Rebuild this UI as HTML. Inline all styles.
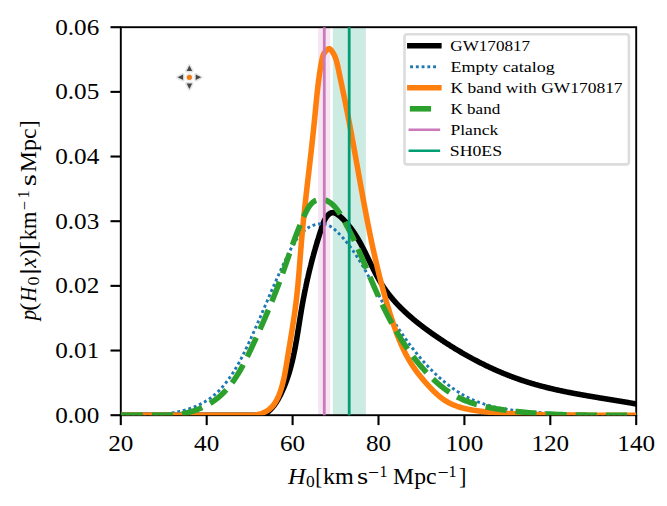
<!DOCTYPE html>
<html><head><meta charset="utf-8"><style>
html,body{margin:0;padding:0;background:#fff;width:667px;height:506px;overflow:hidden}
svg{display:block}
text{font-family:"Liberation Serif",serif}
</style></head><body>
<svg width="667" height="506" viewBox="0 0 667 506">
<defs><clipPath id="ax"><rect x="120.8" y="27.2" width="515.40" height="388.15"/></clipPath></defs>
<rect width="667" height="506" fill="#fff"/>
<rect x="318.2" y="27.2" width="12.00" height="388.00" fill="#CC78BC" fill-opacity="0.2"/>
<rect x="332.8" y="27.2" width="33.10" height="388.00" fill="#029E73" fill-opacity="0.2"/>
<rect x="120.8" y="27.2" width="515.40" height="388.00" fill="none" stroke="#000" stroke-width="1.9" stroke-linecap="square"/>
<g clip-path="url(#ax)"><path d="M120.50,415.20 L238.00,415.20 L238.48,415.20 L238.96,415.20 L239.45,415.20 L239.95,415.20 L240.45,415.20 L240.95,415.20 L241.46,415.20 L241.98,415.20 L242.50,415.20 L243.02,415.20 L243.55,415.20 L244.08,415.20 L244.62,415.20 L245.16,415.20 L245.70,415.20 L246.24,415.20 L246.78,415.20 L247.33,415.20 L247.88,415.20 L248.43,415.20 L248.98,415.20 L249.53,415.20 L250.08,415.20 L250.63,415.20 L251.18,415.20 L251.73,415.20 L252.28,415.20 L252.83,415.20 L253.37,415.20 L253.92,415.20 L254.46,415.20 L255.00,415.20 L255.54,415.20 L256.07,415.20 L256.61,415.20 L257.13,415.20 L257.66,415.20 L258.18,415.20 L258.69,415.20 L259.20,415.20 L259.71,415.20 L260.21,415.20 L260.71,415.20 L261.20,415.20 L261.68,415.20 L262.16,415.15 L262.63,415.01 L263.09,414.85 L263.55,414.67 L264.00,414.48 L264.44,414.27 L264.87,414.04 L265.30,413.80 L265.72,413.55 L266.14,413.29 L266.55,413.01 L266.95,412.72 L267.35,412.42 L267.74,412.12 L268.13,411.80 L268.51,411.47 L268.89,411.14 L269.26,410.80 L269.62,410.45 L269.99,410.10 L270.34,409.74 L270.70,409.38 L271.05,409.01 L271.39,408.64 L271.73,408.27 L272.07,407.89 L272.40,407.50 L272.73,407.12 L273.05,406.72 L273.37,406.33 L273.68,405.93 L274.00,405.52 L274.30,405.11 L274.61,404.70 L274.91,404.29 L275.21,403.87 L275.50,403.45 L275.79,403.02 L276.08,402.59 L276.36,402.16 L276.64,401.73 L276.92,401.29 L277.19,400.85 L277.46,400.41 L277.72,399.96 L277.99,399.52 L278.25,399.07 L278.51,398.61 L278.76,398.16 L279.01,397.70 L279.26,397.24 L279.51,396.78 L279.75,396.32 L279.99,395.86 L280.23,395.39 L280.47,394.92 L280.70,394.45 L280.93,393.98 L281.16,393.51 L281.38,393.04 L281.61,392.57 L281.83,392.09 L282.05,391.62 L282.27,391.14 L282.48,390.66 L282.69,390.19 L282.90,389.71 L283.11,389.23 L283.32,388.75 L283.53,388.27 L283.73,387.79 L283.93,387.31 L284.13,386.83 L284.33,386.34 L284.52,385.86 L284.72,385.38 L284.91,384.89 L285.10,384.41 L285.29,383.92 L285.48,383.44 L285.66,382.95 L285.84,382.47 L286.02,381.98 L286.20,381.49 L286.38,381.00 L286.56,380.52 L286.73,380.03 L286.91,379.54 L287.08,379.05 L287.25,378.56 L287.41,378.07 L287.58,377.57 L287.75,377.08 L287.91,376.59 L288.07,376.10 L288.23,375.60 L288.39,375.11 L288.55,374.62 L288.70,374.12 L288.86,373.63 L289.01,373.13 L289.16,372.63 L289.31,372.14 L289.46,371.64 L289.60,371.14 L289.75,370.65 L289.89,370.15 L290.04,369.65 L290.18,369.15 L290.32,368.65 L290.46,368.15 L290.59,367.65 L290.73,367.15 L290.86,366.65 L291.00,366.15 L291.13,365.65 L291.26,365.15 L291.39,364.65 L291.52,364.14 L291.65,363.64 L291.77,363.14 L291.90,362.63 L292.02,362.13 L292.14,361.63 L292.27,361.12 L292.39,360.62 L292.51,360.11 L292.62,359.61 L292.74,359.10 L292.86,358.60 L292.97,358.09 L293.09,357.58 L293.20,357.08 L293.31,356.57 L293.42,356.06 L293.54,355.56 L293.64,355.05 L293.75,354.54 L293.86,354.03 L293.97,353.52 L294.07,353.01 L294.18,352.51 L294.28,352.00 L294.39,351.49 L294.49,350.98 L294.59,350.47 L294.69,349.96 L294.79,349.45 L294.89,348.94 L294.99,348.43 L295.09,347.92 L295.19,347.40 L295.28,346.89 L295.38,346.38 L295.47,345.87 L295.57,345.36 L295.66,344.85 L295.76,344.33 L295.85,343.82 L295.94,343.31 L296.03,342.80 L296.12,342.28 L296.21,341.77 L296.30,341.26 L296.39,340.75 L296.48,340.23 L296.57,339.72 L296.66,339.21 L296.75,338.69 L296.84,338.18 L296.92,337.67 L297.01,337.15 L297.09,336.64 L297.18,336.12 L297.27,335.61 L297.35,335.10 L297.44,334.58 L297.52,334.07 L297.60,333.55 L297.69,333.04 L297.77,332.52 L297.85,332.01 L297.94,331.50 L298.02,330.98 L298.10,330.47 L298.18,329.95 L298.27,329.44 L298.35,328.92 L298.43,328.41 L298.51,327.89 L298.59,327.38 L298.68,326.87 L298.76,326.35 L298.84,325.84 L298.92,325.32 L299.00,324.81 L299.08,324.29 L299.16,323.78 L299.25,323.26 L299.33,322.75 L299.41,322.24 L299.49,321.72 L299.57,321.21 L299.65,320.69 L299.73,320.18 L299.82,319.66 L299.90,319.15 L299.98,318.64 L300.06,318.12 L300.14,317.61 L300.23,317.10 L300.31,316.58 L300.39,316.07 L300.47,315.56 L300.56,315.04 L300.64,314.53 L300.73,314.02 L300.81,313.50 L300.89,312.99 L300.98,312.48 L301.06,311.97 L301.15,311.45 L301.24,310.94 L301.32,310.43 L301.41,309.92 L301.50,309.41 L301.58,308.90 L301.67,308.39 L301.76,307.87 L301.85,307.36 L301.94,306.85 L302.03,306.34 L302.12,305.83 L302.21,305.32 L302.30,304.81 L302.39,304.30 L302.48,303.79 L302.57,303.28 L302.67,302.77 L302.76,302.26 L302.85,301.75 L302.95,301.24 L303.04,300.74 L303.13,300.23 L303.23,299.72 L303.32,299.21 L303.42,298.70 L303.52,298.19 L303.61,297.68 L303.71,297.18 L303.81,296.67 L303.91,296.16 L304.00,295.65 L304.10,295.14 L304.20,294.64 L304.30,294.13 L304.40,293.62 L304.50,293.12 L304.60,292.61 L304.71,292.10 L304.81,291.59 L304.91,291.09 L305.01,290.58 L305.12,290.07 L305.22,289.57 L305.32,289.06 L305.43,288.56 L305.53,288.05 L305.64,287.54 L305.75,287.04 L305.85,286.53 L305.96,286.03 L306.07,285.52 L306.17,285.01 L306.28,284.51 L306.39,284.00 L306.50,283.50 L306.61,282.99 L306.72,282.49 L306.83,281.98 L306.94,281.48 L307.05,280.97 L307.17,280.47 L307.28,279.96 L307.39,279.46 L307.50,278.95 L307.62,278.45 L307.73,277.94 L307.85,277.44 L307.96,276.93 L308.08,276.43 L308.20,275.93 L308.31,275.42 L308.43,274.92 L308.55,274.41 L308.67,273.91 L308.78,273.40 L308.90,272.90 L309.02,272.40 L309.14,271.89 L309.26,271.39 L309.38,270.88 L309.51,270.38 L309.63,269.88 L309.75,269.37 L309.87,268.87 L310.00,268.36 L310.12,267.86 L310.25,267.36 L310.37,266.85 L310.50,266.35 L310.62,265.85 L310.75,265.34 L310.88,264.84 L311.00,264.33 L311.13,263.83 L311.26,263.33 L311.39,262.82 L311.52,262.32 L311.65,261.82 L311.78,261.31 L311.91,260.81 L312.04,260.31 L312.18,259.80 L312.31,259.30 L312.44,258.79 L312.58,258.29 L312.71,257.79 L312.84,257.28 L312.98,256.78 L313.12,256.28 L313.25,255.77 L313.39,255.27 L313.53,254.77 L313.66,254.26 L313.80,253.76 L313.94,253.25 L314.08,252.75 L314.22,252.25 L314.36,251.74 L314.50,251.24 L314.64,250.73 L314.79,250.23 L314.93,249.73 L315.07,249.22 L315.22,248.72 L315.36,248.21 L315.51,247.71 L315.65,247.21 L315.80,246.70 L315.94,246.20 L316.09,245.69 L316.24,245.19 L316.39,244.68 L316.53,244.18 L316.68,243.68 L316.83,243.17 L316.98,242.67 L317.13,242.16 L317.29,241.66 L317.44,241.15 L317.59,240.65 L317.74,240.14 L317.90,239.64 L318.05,239.13 L318.21,238.63 L318.36,238.12 L318.52,237.62 L318.67,237.11 L318.83,236.60 L318.99,236.10 L319.15,235.59 L319.30,235.09 L319.46,234.58 L319.62,234.08 L319.78,233.57 L319.95,233.06 L320.11,232.56 L320.27,232.05 L320.43,231.54 L320.59,231.04 L320.76,230.53 L320.92,230.02 L321.09,229.52 L321.25,229.01 L321.42,228.50 L321.59,228.00 L321.75,227.49 L321.92,226.98 L322.09,226.47 L322.26,225.97 L322.43,225.46 L322.61,224.95 L322.78,224.45 L322.96,223.94 L323.15,223.44 L323.34,222.94 L323.54,222.44 L323.74,221.94 L323.95,221.45 L324.17,220.96 L324.40,220.47 L324.64,219.99 L324.89,219.51 L325.15,219.03 L325.42,218.56 L325.71,218.09 L326.01,217.63 L326.32,217.17 L326.64,216.72 L326.98,216.29 L327.32,215.87 L327.68,215.47 L328.04,215.08 L328.41,214.71 L328.79,214.37 L329.17,214.05 L329.56,213.76 L329.96,213.50 L330.36,213.27 L330.76,213.07 L331.17,212.91 L331.58,212.79 L331.99,212.71 L332.40,212.66 L332.82,212.65 L333.23,212.67 L333.64,212.72 L334.06,212.80 L334.48,212.91 L334.89,213.05 L335.31,213.21 L335.72,213.40 L336.14,213.61 L336.55,213.84 L336.97,214.09 L337.38,214.36 L337.79,214.64 L338.20,214.94 L338.61,215.25 L339.01,215.57 L339.41,215.90 L339.81,216.24 L340.21,216.58 L340.61,216.93 L341.00,217.29 L341.39,217.64 L341.77,218.00 L342.15,218.36 L342.53,218.73 L342.91,219.09 L343.28,219.46 L343.65,219.83 L344.02,220.20 L344.38,220.58 L344.74,220.95 L345.10,221.33 L345.45,221.71 L345.80,222.10 L346.15,222.48 L346.50,222.87 L346.84,223.26 L347.18,223.65 L347.52,224.04 L347.86,224.43 L348.19,224.83 L348.52,225.23 L348.84,225.63 L349.17,226.03 L349.49,226.43 L349.81,226.84 L350.13,227.25 L350.44,227.66 L350.76,228.07 L351.07,228.48 L351.37,228.89 L351.68,229.31 L351.98,229.73 L352.28,230.14 L352.58,230.56 L352.88,230.99 L353.17,231.41 L353.47,231.83 L353.76,232.26 L354.04,232.69 L354.33,233.12 L354.61,233.55 L354.90,233.98 L355.18,234.41 L355.46,234.85 L355.73,235.28 L356.01,235.72 L356.28,236.16 L356.55,236.60 L356.82,237.04 L357.09,237.48 L357.36,237.92 L357.62,238.37 L357.89,238.81 L358.15,239.26 L358.41,239.71 L358.67,240.16 L358.93,240.61 L359.18,241.06 L359.44,241.51 L359.69,241.96 L359.94,242.41 L360.20,242.87 L360.45,243.32 L360.69,243.78 L360.94,244.24 L361.19,244.69 L361.43,245.15 L361.68,245.61 L361.92,246.07 L362.16,246.53 L362.40,246.99 L362.65,247.45 L362.88,247.92 L363.12,248.38 L363.36,248.84 L363.60,249.31 L363.83,249.77 L364.07,250.24 L364.31,250.70 L364.54,251.17 L364.77,251.64 L365.01,252.10 L365.24,252.57 L365.47,253.04 L365.70,253.51 L365.93,253.98 L366.16,254.44 L366.39,254.91 L366.62,255.38 L366.85,255.85 L367.08,256.32 L367.31,256.79 L367.54,257.26 L367.77,257.73 L368.00,258.20 L368.23,258.67 L368.45,259.14 L368.68,259.61 L368.91,260.09 L369.14,260.56 L369.37,261.03 L369.59,261.50 L369.82,261.97 L370.05,262.44 L370.28,262.91 L370.51,263.38 L370.74,263.85 L370.97,264.32 L371.20,264.79 L371.43,265.26 L371.66,265.73 L371.89,266.19 L372.12,266.66 L372.35,267.13 L372.58,267.60 L372.82,268.07 L373.05,268.53 L373.28,269.00 L373.52,269.46 L373.75,269.93 L373.99,270.39 L374.23,270.86 L374.47,271.32 L374.70,271.79 L374.94,272.25 L375.18,272.71 L375.42,273.17 L375.67,273.63 L375.91,274.09 L376.15,274.55 L376.40,275.01 L376.64,275.47 L376.89,275.93 L377.14,276.38 L377.39,276.84 L377.64,277.29 L377.89,277.75 L378.14,278.20 L378.40,278.65 L378.65,279.10 L378.91,279.55 L379.17,280.00 L379.43,280.45 L379.69,280.89 L379.95,281.34 L380.22,281.78 L380.49,282.23 L380.75,282.67 L381.02,283.11 L381.29,283.55 L381.57,283.99 L381.84,284.43 L382.12,284.86 L382.40,285.30 L382.68,285.73 L382.96,286.16 L383.24,286.60 L383.53,287.03 L383.81,287.45 L384.10,287.88 L384.39,288.31 L384.69,288.73 L384.98,289.15 L385.28,289.58 L385.58,290.00 L385.88,290.42 L386.18,290.83 L386.48,291.25 L386.79,291.67 L387.09,292.08 L387.40,292.49 L387.71,292.90 L388.02,293.31 L388.34,293.72 L388.65,294.13 L388.97,294.54 L389.29,294.94 L389.61,295.35 L389.93,295.75 L390.25,296.15 L390.58,296.55 L390.91,296.95 L391.23,297.35 L391.56,297.75 L391.90,298.14 L392.23,298.54 L392.56,298.93 L392.90,299.32 L393.24,299.72 L393.57,300.11 L393.91,300.49 L394.26,300.88 L394.60,301.27 L394.94,301.65 L395.29,302.04 L395.64,302.42 L395.99,302.80 L396.34,303.19 L396.69,303.56 L397.04,303.94 L397.40,304.32 L397.75,304.70 L398.11,305.07 L398.47,305.45 L398.83,305.82 L399.19,306.19 L399.55,306.56 L399.92,306.93 L400.28,307.30 L400.65,307.67 L401.01,308.04 L401.38,308.41 L401.75,308.77 L402.12,309.13 L402.50,309.50 L402.87,309.86 L403.24,310.22 L403.62,310.58 L404.00,310.94 L404.38,311.30 L404.76,311.65 L405.14,312.01 L405.52,312.36 L405.90,312.72 L406.28,313.07 L406.67,313.42 L407.06,313.77 L407.44,314.12 L407.83,314.47 L408.22,314.82 L408.61,315.17 L409.00,315.52 L409.39,315.86 L409.79,316.21 L410.18,316.55 L410.57,316.89 L410.97,317.23 L411.37,317.57 L411.77,317.91 L412.16,318.25 L412.56,318.59 L412.96,318.93 L413.37,319.27 L413.77,319.60 L414.17,319.94 L414.58,320.27 L414.98,320.60 L415.39,320.94 L415.79,321.27 L416.20,321.60 L416.61,321.93 L417.02,322.26 L417.43,322.58 L417.84,322.91 L418.25,323.24 L418.66,323.56 L419.07,323.89 L419.49,324.21 L419.90,324.54 L420.32,324.86 L420.73,325.18 L421.15,325.50 L421.56,325.82 L421.98,326.14 L422.40,326.46 L422.82,326.78 L423.24,327.10 L423.66,327.41 L424.08,327.73 L424.50,328.04 L424.92,328.36 L425.34,328.67 L425.77,328.98 L426.19,329.30 L426.61,329.61 L427.04,329.92 L427.46,330.23 L427.89,330.54 L428.31,330.85 L428.74,331.16 L429.17,331.46 L429.59,331.77 L430.02,332.08 L430.45,332.38 L430.88,332.69 L431.31,332.99 L431.73,333.30 L432.16,333.60 L432.59,333.90 L433.02,334.20 L433.45,334.50 L433.89,334.80 L434.32,335.10 L434.75,335.40 L435.18,335.70 L435.61,336.00 L436.04,336.30 L436.48,336.59 L436.91,336.89 L437.34,337.19 L437.78,337.48 L438.21,337.78 L438.64,338.07 L439.08,338.37 L439.51,338.66 L439.95,338.95 L440.38,339.24 L440.82,339.53 L441.25,339.82 L441.69,340.11 L442.12,340.40 L442.56,340.69 L443.00,340.98 L443.43,341.27 L443.87,341.56 L444.31,341.84 L444.74,342.13 L445.18,342.41 L445.62,342.70 L446.06,342.98 L446.50,343.27 L446.94,343.55 L447.38,343.83 L447.82,344.11 L448.26,344.39 L448.70,344.67 L449.14,344.95 L449.58,345.23 L450.02,345.51 L450.46,345.79 L450.90,346.07 L451.34,346.34 L451.78,346.62 L452.22,346.90 L452.67,347.17 L453.11,347.44 L453.55,347.72 L454.00,347.99 L454.44,348.26 L454.88,348.53 L455.33,348.81 L455.77,349.08 L456.22,349.35 L456.66,349.62 L457.11,349.88 L457.55,350.15 L458.00,350.42 L458.45,350.69 L458.89,350.95 L459.34,351.22 L459.79,351.48 L460.23,351.75 L460.68,352.01 L461.13,352.27 L461.58,352.53 L462.02,352.80 L462.47,353.06 L462.92,353.32 L463.37,353.58 L463.82,353.83 L464.27,354.09 L464.72,354.35 L465.17,354.61 L465.62,354.86 L466.07,355.12 L466.52,355.37 L466.98,355.63 L467.43,355.88 L467.88,356.13 L468.33,356.39 L468.79,356.64 L469.24,356.89 L469.69,357.14 L470.15,357.39 L470.60,357.64 L471.05,357.88 L471.51,358.13 L471.96,358.38 L472.42,358.62 L472.88,358.87 L473.33,359.11 L473.79,359.36 L474.24,359.60 L474.70,359.84 L475.16,360.08 L475.61,360.33 L476.07,360.57 L476.53,360.81 L476.99,361.04 L477.45,361.28 L477.91,361.52 L478.37,361.76 L478.83,361.99 L479.28,362.23 L479.75,362.46 L480.21,362.70 L480.67,362.93 L481.13,363.16 L481.59,363.40 L482.05,363.63 L482.51,363.86 L482.97,364.09 L483.44,364.32 L483.90,364.54 L484.36,364.77 L484.83,365.00 L485.29,365.22 L485.76,365.45 L486.22,365.67 L486.69,365.90 L487.15,366.12 L487.62,366.34 L488.08,366.57 L488.55,366.79 L489.01,367.01 L489.48,367.23 L489.95,367.44 L490.42,367.66 L490.88,367.88 L491.35,368.10 L491.82,368.31 L492.29,368.53 L492.76,368.74 L493.23,368.95 L493.70,369.17 L494.17,369.38 L494.64,369.59 L495.11,369.80 L495.58,370.01 L496.05,370.22 L496.52,370.43 L496.99,370.64 L497.47,370.84 L497.94,371.05 L498.41,371.25 L498.89,371.46 L499.36,371.66 L499.83,371.86 L500.31,372.07 L500.78,372.27 L501.26,372.47 L501.73,372.67 L502.21,372.87 L502.69,373.06 L503.16,373.26 L503.64,373.46 L504.12,373.65 L504.59,373.85 L505.07,374.04 L505.55,374.24 L506.03,374.43 L506.51,374.62 L506.99,374.81 L507.47,375.00 L507.95,375.19 L508.43,375.38 L508.91,375.57 L509.39,375.76 L509.87,375.94 L510.35,376.13 L510.83,376.31 L511.31,376.50 L511.80,376.68 L512.28,376.86 L512.76,377.04 L513.25,377.22 L513.73,377.40 L514.22,377.58 L514.70,377.76 L515.19,377.94 L515.67,378.11 L516.16,378.29 L516.64,378.46 L517.13,378.64 L517.62,378.81 L518.10,378.98 L518.59,379.15 L519.08,379.33 L519.57,379.50 L520.06,379.66 L520.54,379.83 L521.03,380.00 L521.52,380.17 L522.01,380.33 L522.50,380.50 L523.00,380.66 L523.49,380.82 L523.98,380.99 L524.47,381.15 L524.96,381.31 L525.46,381.47 L525.95,381.63 L526.44,381.79 L526.94,381.94 L527.43,382.10 L527.92,382.25 L528.42,382.41 L528.91,382.56 L529.41,382.72 L529.91,382.87 L530.40,383.02 L530.90,383.17 L531.40,383.32 L531.89,383.47 L532.39,383.62 L532.89,383.76 L533.39,383.91 L533.89,384.05 L534.39,384.20 L534.89,384.34 L535.38,384.49 L535.89,384.63 L536.39,384.77 L536.89,384.91 L537.39,385.05 L537.89,385.19 L538.39,385.33 L538.89,385.46 L539.40,385.60 L539.90,385.74 L540.40,385.87 L540.90,386.01 L541.41,386.14 L541.91,386.27 L542.42,386.40 L542.92,386.54 L543.43,386.67 L543.93,386.80 L544.44,386.93 L544.94,387.05 L545.45,387.18 L545.95,387.31 L546.46,387.44 L546.97,387.56 L547.47,387.69 L547.98,387.81 L548.49,387.93 L549.00,388.06 L549.50,388.18 L550.01,388.30 L550.52,388.42 L551.03,388.54 L551.54,388.66 L552.05,388.78 L552.56,388.90 L553.07,389.02 L553.58,389.14 L554.09,389.25 L554.60,389.37 L555.11,389.49 L555.62,389.60 L556.13,389.72 L556.64,389.83 L557.15,389.94 L557.66,390.06 L558.17,390.17 L558.68,390.28 L559.20,390.39 L559.71,390.50 L560.22,390.61 L560.73,390.72 L561.24,390.83 L561.76,390.94 L562.27,391.04 L562.78,391.15 L563.30,391.26 L563.81,391.37 L564.32,391.47 L564.84,391.58 L565.35,391.68 L565.86,391.79 L566.38,391.89 L566.89,391.99 L567.41,392.10 L567.92,392.20 L568.43,392.30 L568.95,392.40 L569.46,392.50 L569.98,392.60 L570.49,392.70 L571.01,392.80 L571.52,392.90 L572.04,393.00 L572.55,393.10 L573.07,393.20 L573.58,393.30 L574.10,393.39 L574.62,393.49 L575.13,393.59 L575.65,393.68 L576.16,393.78 L576.68,393.88 L577.19,393.97 L577.71,394.07 L578.23,394.16 L578.74,394.25 L579.26,394.35 L579.77,394.44 L580.29,394.54 L580.81,394.63 L581.32,394.72 L581.84,394.81 L582.35,394.90 L582.87,395.00 L583.39,395.09 L583.90,395.18 L584.42,395.27 L584.94,395.36 L585.45,395.45 L585.97,395.54 L586.49,395.63 L587.00,395.72 L587.52,395.81 L588.03,395.90 L588.55,395.99 L589.07,396.07 L589.58,396.16 L590.10,396.25 L590.61,396.34 L591.13,396.42 L591.65,396.51 L592.16,396.60 L592.68,396.69 L593.19,396.77 L593.71,396.86 L594.23,396.95 L594.74,397.03 L595.26,397.12 L595.77,397.20 L596.29,397.29 L596.80,397.37 L597.32,397.46 L597.83,397.55 L598.35,397.63 L598.87,397.72 L599.38,397.80 L599.90,397.88 L600.41,397.97 L600.92,398.05 L601.44,398.14 L601.95,398.22 L602.47,398.31 L602.98,398.39 L603.50,398.47 L604.01,398.56 L604.53,398.64 L605.04,398.73 L605.55,398.81 L606.07,398.89 L606.58,398.98 L607.09,399.06 L607.61,399.14 L608.12,399.23 L608.63,399.31 L609.14,399.40 L609.66,399.48 L610.17,399.56 L610.68,399.65 L611.19,399.73 L611.71,399.81 L612.22,399.90 L612.73,399.98 L613.24,400.06 L613.75,400.15 L614.26,400.23 L614.77,400.31 L615.28,400.40 L615.79,400.48 L616.30,400.56 L616.81,400.65 L617.32,400.73 L617.83,400.82 L618.34,400.90 L618.85,400.98 L619.36,401.07 L619.87,401.15 L620.38,401.24 L620.89,401.32 L621.39,401.41 L621.90,401.49 L622.41,401.58 L622.92,401.66 L623.42,401.75 L623.93,401.83 L624.44,401.92 L624.94,402.00 L625.45,402.09 L625.95,402.17 L626.46,402.26 L626.96,402.34 L627.47,402.43 L627.97,402.52 L628.48,402.60 L628.98,402.69 L629.48,402.78 L629.99,402.87 L630.49,402.95 L630.99,403.04 L631.50,403.13 L632.00,403.22 L632.50,403.31 L633.00,403.39 L633.50,403.48 L634.00,403.57 L634.50,403.66 L635.00,403.75 L635.50,403.84 L636.00,403.93 L636.20,403.59" fill="none" stroke="#000000" stroke-width="5.56" stroke-linejoin="round"/><path d="M120.50,415.20 L135.02,415.20 L135.61,415.20 L136.20,415.20 L136.78,415.20 L137.37,415.20 L137.96,415.20 L138.55,415.20 L139.14,415.20 L139.73,415.20 L140.33,415.20 L140.92,415.20 L141.52,415.20 L142.11,415.20 L142.71,415.20 L143.30,415.20 L143.90,415.20 L144.50,415.20 L145.10,415.20 L145.70,415.20 L146.30,415.20 L146.90,415.20 L147.50,415.20 L148.10,415.20 L148.71,415.20 L149.31,415.20 L149.91,415.20 L150.52,415.20 L151.12,415.20 L151.72,415.20 L152.33,415.20 L152.93,415.20 L153.54,415.20 L154.14,415.20 L154.75,415.20 L155.35,414.86 L155.96,414.82 L156.56,414.78 L157.17,414.73 L157.77,414.69 L158.38,414.64 L158.98,414.59 L159.59,414.54 L160.19,414.49 L160.80,414.43 L161.40,414.37 L162.01,414.31 L162.61,414.25 L163.22,414.19 L163.82,414.12 L164.42,414.05 L165.03,413.98 L165.63,413.91 L166.23,413.83 L166.83,413.75 L167.43,413.67 L168.03,413.59 L168.63,413.50 L169.23,413.41 L169.83,413.32 L170.43,413.23 L171.03,413.14 L171.62,413.04 L172.22,412.94 L172.82,412.83 L173.41,412.73 L174.00,412.62 L174.60,412.51 L175.19,412.40 L175.78,412.28 L176.37,412.16 L176.96,412.04 L177.55,411.91 L178.13,411.79 L178.72,411.66 L179.30,411.52 L179.89,411.39 L180.47,411.25 L181.05,411.11 L181.63,410.96 L182.21,410.81 L182.78,410.66 L183.36,410.51 L183.93,410.35 L184.51,410.19 L185.08,410.03 L185.65,409.87 L186.22,409.70 L186.78,409.53 L187.35,409.35 L187.91,409.17 L188.48,408.99 L189.04,408.81 L189.60,408.62 L190.15,408.43 L190.71,408.23 L191.26,408.04 L191.81,407.83 L192.37,407.63 L192.91,407.42 L193.46,407.21 L194.00,407.00 L194.55,406.78 L195.09,406.56 L195.63,406.33 L196.16,406.10 L196.70,405.87 L197.23,405.64 L197.76,405.40 L198.29,405.15 L198.81,404.91 L199.34,404.66 L199.86,404.40 L200.38,404.15 L200.89,403.89 L201.41,403.62 L201.92,403.35 L202.43,403.08 L202.94,402.80 L203.44,402.52 L203.94,402.24 L204.44,401.95 L204.94,401.66 L205.43,401.36 L205.92,401.06 L206.41,400.76 L206.90,400.45 L207.38,400.14 L207.86,399.83 L208.34,399.51 L208.82,399.18 L209.29,398.86 L209.76,398.52 L210.23,398.19 L210.69,397.85 L211.15,397.50 L211.61,397.16 L212.06,396.80 L212.51,396.45 L212.96,396.09 L213.41,395.72 L213.85,395.35 L214.30,394.98 L214.73,394.61 L215.17,394.23 L215.60,393.85 L216.03,393.46 L216.46,393.07 L216.88,392.67 L217.30,392.28 L217.72,391.88 L218.14,391.47 L218.56,391.06 L218.97,390.65 L219.38,390.24 L219.78,389.82 L220.19,389.40 L220.59,388.98 L220.99,388.55 L221.38,388.12 L221.78,387.68 L222.17,387.25 L222.56,386.81 L222.95,386.36 L223.33,385.92 L223.71,385.47 L224.09,385.02 L224.47,384.57 L224.85,384.11 L225.22,383.65 L225.59,383.19 L225.96,382.72 L226.32,382.25 L226.69,381.78 L227.05,381.31 L227.41,380.84 L227.77,380.36 L228.12,379.88 L228.48,379.39 L228.83,378.91 L229.18,378.42 L229.53,377.93 L229.87,377.44 L230.21,376.95 L230.56,376.45 L230.90,375.95 L231.23,375.45 L231.57,374.95 L231.90,374.45 L232.23,373.94 L232.56,373.43 L232.89,372.92 L233.22,372.41 L233.54,371.90 L233.87,371.38 L234.19,370.87 L234.51,370.35 L234.82,369.83 L235.14,369.31 L235.45,368.79 L235.77,368.26 L236.08,367.73 L236.39,367.21 L236.69,366.68 L237.00,366.15 L237.30,365.62 L237.61,365.08 L237.91,364.55 L238.21,364.02 L238.50,363.48 L238.80,362.94 L239.10,362.40 L239.39,361.86 L239.68,361.32 L239.97,360.78 L240.26,360.24 L240.55,359.70 L240.84,359.15 L241.12,358.61 L241.41,358.06 L241.69,357.52 L241.97,356.97 L242.25,356.42 L242.53,355.88 L242.81,355.33 L243.08,354.78 L243.36,354.23 L243.63,353.68 L243.91,353.13 L244.18,352.58 L244.45,352.03 L244.72,351.48 L244.99,350.93 L245.26,350.38 L245.52,349.83 L245.79,349.27 L246.05,348.72 L246.32,348.17 L246.58,347.62 L246.84,347.07 L247.10,346.52 L247.36,345.97 L247.62,345.42 L247.88,344.86 L248.14,344.31 L248.39,343.76 L248.65,343.21 L248.91,342.66 L249.16,342.12 L249.41,341.57 L249.67,341.02 L249.92,340.47 L250.17,339.92 L250.42,339.38 L250.67,338.83 L250.92,338.29 L251.17,337.74 L251.41,337.20 L251.66,336.65 L251.91,336.11 L252.15,335.56 L252.40,335.02 L252.64,334.48 L252.89,333.93 L253.13,333.39 L253.38,332.85 L253.62,332.31 L253.86,331.77 L254.10,331.22 L254.34,330.68 L254.58,330.14 L254.82,329.60 L255.06,329.06 L255.30,328.52 L255.54,327.98 L255.78,327.44 L256.01,326.91 L256.25,326.37 L256.49,325.83 L256.72,325.29 L256.96,324.75 L257.19,324.22 L257.43,323.68 L257.66,323.14 L257.90,322.60 L258.13,322.07 L258.36,321.53 L258.60,320.99 L258.83,320.46 L259.06,319.92 L259.29,319.39 L259.53,318.85 L259.76,318.31 L259.99,317.78 L260.22,317.24 L260.45,316.71 L260.68,316.17 L260.91,315.64 L261.14,315.10 L261.37,314.57 L261.60,314.04 L261.83,313.50 L262.06,312.97 L262.29,312.43 L262.52,311.90 L262.75,311.36 L262.98,310.83 L263.21,310.30 L263.43,309.76 L263.66,309.23 L263.89,308.69 L264.12,308.16 L264.35,307.63 L264.58,307.09 L264.80,306.56 L265.03,306.02 L265.26,305.49 L265.49,304.96 L265.72,304.42 L265.94,303.89 L266.17,303.35 L266.40,302.82 L266.63,302.29 L266.86,301.75 L267.09,301.22 L267.31,300.68 L267.54,300.15 L267.77,299.61 L268.00,299.08 L268.23,298.54 L268.46,298.01 L268.69,297.47 L268.92,296.94 L269.15,296.40 L269.38,295.87 L269.61,295.33 L269.84,294.80 L270.07,294.26 L270.30,293.72 L270.53,293.19 L270.76,292.65 L270.99,292.11 L271.22,291.58 L271.45,291.04 L271.68,290.50 L271.92,289.97 L272.15,289.43 L272.38,288.89 L272.62,288.35 L272.85,287.81 L273.08,287.28 L273.32,286.74 L273.55,286.20 L273.79,285.66 L274.02,285.12 L274.26,284.58 L274.50,284.04 L274.73,283.50 L274.97,282.96 L275.21,282.42 L275.45,281.87 L275.69,281.33 L275.92,280.79 L276.16,280.25 L276.40,279.70 L276.64,279.16 L276.89,278.62 L277.13,278.07 L277.37,277.53 L277.61,276.98 L277.86,276.44 L278.10,275.89 L278.34,275.35 L278.59,274.80 L278.84,274.25 L279.08,273.71 L279.33,273.16 L279.58,272.61 L279.83,272.06 L280.07,271.51 L280.32,270.96 L280.57,270.41 L280.83,269.86 L281.08,269.31 L281.33,268.76 L281.58,268.21 L281.84,267.66 L282.09,267.10 L282.35,266.55 L282.60,266.00 L282.86,265.44 L283.12,264.89 L283.38,264.33 L283.64,263.78 L283.90,263.22 L284.16,262.66 L284.42,262.10 L284.68,261.54 L284.95,260.99 L285.21,260.43 L285.48,259.87 L285.75,259.31 L286.01,258.74 L286.28,258.18 L286.55,257.62 L286.82,257.06 L287.09,256.49 L287.36,255.93 L287.64,255.36 L287.91,254.80 L288.19,254.23 L288.47,253.67 L288.74,253.10 L289.03,252.54 L289.31,251.97 L289.59,251.41 L289.88,250.85 L290.16,250.29 L290.45,249.73 L290.74,249.17 L291.04,248.61 L291.33,248.06 L291.63,247.51 L291.93,246.96 L292.23,246.41 L292.54,245.86 L292.85,245.32 L293.16,244.78 L293.47,244.24 L293.79,243.70 L294.11,243.17 L294.43,242.65 L294.76,242.12 L295.08,241.60 L295.42,241.08 L295.75,240.57 L296.09,240.06 L296.43,239.56 L296.78,239.06 L297.13,238.57 L297.49,238.08 L297.84,237.60 L298.21,237.12 L298.57,236.64 L298.94,236.18 L299.32,235.71 L299.70,235.26 L300.08,234.81 L300.47,234.37 L300.86,233.93 L301.26,233.50 L301.66,233.08 L302.07,232.66 L302.48,232.25 L302.90,231.85 L303.32,231.45 L303.75,231.07 L304.18,230.69 L304.62,230.32 L305.06,229.95 L305.51,229.60 L305.96,229.25 L306.43,228.92 L306.89,228.59 L307.36,228.27 L307.84,227.96 L308.33,227.66 L308.82,227.37 L309.32,227.08 L309.82,226.81 L310.33,226.55 L310.84,226.30 L311.37,226.06 L311.89,225.83 L312.43,225.61 L312.96,225.40 L313.50,225.20 L314.05,225.02 L314.60,224.85 L315.15,224.69 L315.70,224.54 L316.26,224.40 L316.82,224.28 L317.37,224.18 L317.94,224.08 L318.50,224.00 L319.06,223.94 L319.62,223.89 L320.18,223.85 L320.74,223.83 L321.30,223.83 L321.86,223.84 L322.41,223.87 L322.96,223.91 L323.51,223.97 L324.06,224.05 L324.60,224.15 L325.14,224.26 L325.67,224.39 L326.20,224.54 L326.73,224.70 L327.25,224.89 L327.76,225.09 L328.27,225.31 L328.77,225.54 L329.27,225.79 L329.77,226.05 L330.26,226.33 L330.74,226.62 L331.22,226.93 L331.70,227.25 L332.17,227.57 L332.64,227.91 L333.11,228.26 L333.57,228.62 L334.02,228.99 L334.48,229.37 L334.93,229.75 L335.37,230.15 L335.82,230.55 L336.26,230.95 L336.69,231.36 L337.13,231.78 L337.56,232.20 L337.98,232.62 L338.41,233.05 L338.83,233.48 L339.25,233.91 L339.67,234.35 L340.08,234.78 L340.50,235.22 L340.91,235.66 L341.31,236.10 L341.72,236.54 L342.12,236.98 L342.52,237.43 L342.92,237.88 L343.32,238.32 L343.71,238.78 L344.10,239.23 L344.49,239.68 L344.87,240.14 L345.26,240.59 L345.64,241.05 L346.02,241.51 L346.40,241.97 L346.77,242.44 L347.15,242.90 L347.52,243.37 L347.89,243.83 L348.26,244.30 L348.62,244.77 L348.99,245.24 L349.35,245.72 L349.71,246.19 L350.07,246.67 L350.42,247.14 L350.78,247.62 L351.13,248.10 L351.48,248.58 L351.83,249.06 L352.18,249.55 L352.52,250.03 L352.86,250.52 L353.21,251.01 L353.55,251.49 L353.88,251.98 L354.22,252.47 L354.56,252.96 L354.89,253.46 L355.22,253.95 L355.55,254.45 L355.88,254.94 L356.21,255.44 L356.54,255.94 L356.86,256.44 L357.19,256.93 L357.51,257.44 L357.83,257.94 L358.15,258.44 L358.47,258.94 L358.78,259.45 L359.10,259.95 L359.41,260.46 L359.73,260.97 L360.04,261.48 L360.35,261.98 L360.66,262.49 L360.97,263.00 L361.28,263.51 L361.58,264.03 L361.89,264.54 L362.19,265.05 L362.50,265.57 L362.80,266.08 L363.10,266.60 L363.40,267.11 L363.70,267.63 L364.00,268.15 L364.30,268.66 L364.59,269.18 L364.89,269.70 L365.19,270.22 L365.48,270.74 L365.77,271.26 L366.07,271.78 L366.36,272.30 L366.65,272.82 L366.94,273.35 L367.23,273.87 L367.52,274.39 L367.81,274.92 L368.10,275.44 L368.39,275.96 L368.68,276.49 L368.97,277.01 L369.25,277.54 L369.54,278.06 L369.83,278.59 L370.11,279.12 L370.40,279.64 L370.68,280.17 L370.97,280.69 L371.25,281.22 L371.54,281.75 L371.82,282.28 L372.10,282.80 L372.39,283.33 L372.67,283.86 L372.95,284.39 L373.24,284.91 L373.52,285.44 L373.80,285.97 L374.09,286.50 L374.37,287.02 L374.65,287.55 L374.93,288.08 L375.22,288.61 L375.50,289.13 L375.78,289.66 L376.07,290.19 L376.35,290.71 L376.63,291.24 L376.92,291.77 L377.20,292.29 L377.48,292.82 L377.77,293.35 L378.05,293.87 L378.34,294.40 L378.62,294.92 L378.91,295.45 L379.19,295.97 L379.48,296.50 L379.77,297.02 L380.05,297.55 L380.34,298.07 L380.63,298.59 L380.92,299.12 L381.21,299.64 L381.50,300.16 L381.79,300.68 L382.08,301.20 L382.37,301.72 L382.66,302.24 L382.95,302.76 L383.24,303.28 L383.53,303.80 L383.83,304.32 L384.12,304.84 L384.42,305.36 L384.71,305.88 L385.01,306.40 L385.30,306.91 L385.60,307.43 L385.89,307.94 L386.19,308.46 L386.49,308.98 L386.79,309.49 L387.09,310.01 L387.39,310.52 L387.69,311.03 L387.99,311.55 L388.29,312.06 L388.59,312.57 L388.90,313.08 L389.20,313.59 L389.50,314.11 L389.81,314.62 L390.12,315.13 L390.42,315.64 L390.73,316.14 L391.04,316.65 L391.34,317.16 L391.65,317.67 L391.96,318.18 L392.27,318.68 L392.58,319.19 L392.89,319.69 L393.21,320.20 L393.52,320.70 L393.83,321.21 L394.15,321.71 L394.46,322.21 L394.78,322.72 L395.10,323.22 L395.41,323.72 L395.73,324.22 L396.05,324.72 L396.37,325.22 L396.69,325.72 L397.01,326.22 L397.33,326.72 L397.66,327.22 L397.98,327.71 L398.30,328.21 L398.63,328.71 L398.96,329.20 L399.28,329.70 L399.61,330.19 L399.94,330.69 L400.27,331.18 L400.60,331.67 L400.93,332.16 L401.26,332.66 L401.59,333.15 L401.93,333.64 L402.26,334.13 L402.60,334.62 L402.93,335.10 L403.27,335.59 L403.61,336.08 L403.95,336.57 L404.29,337.05 L404.63,337.54 L404.97,338.02 L405.32,338.51 L405.66,338.99 L406.00,339.47 L406.35,339.96 L406.70,340.44 L407.04,340.92 L407.39,341.40 L407.74,341.88 L408.09,342.36 L408.44,342.84 L408.80,343.31 L409.15,343.79 L409.51,344.27 L409.86,344.74 L410.22,345.22 L410.58,345.69 L410.93,346.17 L411.29,346.64 L411.66,347.11 L412.02,347.58 L412.38,348.05 L412.74,348.52 L413.11,348.99 L413.48,349.46 L413.84,349.93 L414.21,350.40 L414.58,350.86 L414.95,351.33 L415.32,351.80 L415.70,352.26 L416.07,352.72 L416.45,353.19 L416.82,353.65 L417.20,354.11 L417.58,354.57 L417.96,355.03 L418.34,355.49 L418.72,355.95 L419.10,356.41 L419.49,356.86 L419.87,357.32 L420.26,357.78 L420.65,358.23 L421.04,358.68 L421.43,359.14 L421.82,359.59 L422.21,360.04 L422.61,360.49 L423.00,360.94 L423.40,361.39 L423.80,361.84 L424.20,362.28 L424.60,362.73 L425.00,363.17 L425.40,363.62 L425.80,364.06 L426.21,364.50 L426.62,364.94 L427.02,365.38 L427.43,365.82 L427.84,366.26 L428.25,366.69 L428.67,367.13 L429.08,367.56 L429.49,368.00 L429.91,368.43 L430.33,368.86 L430.75,369.29 L431.17,369.71 L431.59,370.14 L432.01,370.57 L432.43,370.99 L432.86,371.41 L433.29,371.83 L433.71,372.25 L434.14,372.67 L434.57,373.09 L435.00,373.50 L435.44,373.91 L435.87,374.33 L436.31,374.74 L436.74,375.15 L437.18,375.55 L437.62,375.96 L438.06,376.36 L438.50,376.77 L438.94,377.17 L439.39,377.57 L439.83,377.97 L440.28,378.36 L440.73,378.76 L441.18,379.15 L441.63,379.54 L442.08,379.93 L442.53,380.31 L442.99,380.70 L443.44,381.08 L443.90,381.47 L444.36,381.85 L444.82,382.22 L445.28,382.60 L445.74,382.97 L446.20,383.35 L446.67,383.72 L447.13,384.08 L447.60,384.45 L448.07,384.81 L448.54,385.18 L449.01,385.54 L449.48,385.89 L449.96,386.25 L450.43,386.60 L450.91,386.95 L451.39,387.30 L451.87,387.65 L452.35,387.99 L452.83,388.34 L453.31,388.68 L453.80,389.02 L454.28,389.35 L454.77,389.68 L455.26,390.02 L455.75,390.34 L456.24,390.67 L456.73,390.99 L457.23,391.32 L457.72,391.64 L458.22,391.95 L458.72,392.27 L459.22,392.58 L459.72,392.89 L460.22,393.19 L460.72,393.50 L461.23,393.80 L461.74,394.10 L462.24,394.39 L462.75,394.69 L463.26,394.98 L463.77,395.27 L464.29,395.55 L464.80,395.84 L465.32,396.12 L465.84,396.39 L466.35,396.67 L466.87,396.94 L467.40,397.21 L467.92,397.47 L468.44,397.74 L468.97,398.00 L469.49,398.26 L470.02,398.51 L470.55,398.76 L471.08,399.01 L471.62,399.26 L472.15,399.50 L472.68,399.74 L473.22,399.98 L473.76,400.21 L474.30,400.44 L474.84,400.67 L475.38,400.89 L475.93,401.12 L476.47,401.34 L477.02,401.55 L477.56,401.76 L478.11,401.97 L478.66,402.18 L479.21,402.39 L479.77,402.59 L480.32,402.79 L480.88,402.98 L481.43,403.18 L481.99,403.37 L482.55,403.56 L483.11,403.74 L483.67,403.92 L484.23,404.10 L484.79,404.28 L485.36,404.46 L485.92,404.63 L486.49,404.80 L487.06,404.97 L487.63,405.13 L488.20,405.29 L488.77,405.45 L489.34,405.61 L489.91,405.77 L490.48,405.92 L491.06,406.07 L491.63,406.22 L492.21,406.36 L492.79,406.51 L493.37,406.65 L493.95,406.79 L494.53,406.92 L495.11,407.06 L495.69,407.19 L496.27,407.32 L496.86,407.45 L497.44,407.57 L498.03,407.70 L498.61,407.82 L499.20,407.94 L499.79,408.06 L500.38,408.17 L500.96,408.29 L501.55,408.40 L502.14,408.51 L502.74,408.62 L503.33,408.72 L503.92,408.83 L504.51,408.93 L505.11,409.03 L505.70,409.13 L506.30,409.23 L506.89,409.32 L507.49,409.42 L508.09,409.51 L508.68,409.60 L509.28,409.69 L509.88,409.78 L510.48,409.86 L511.08,409.95 L511.68,410.03 L512.28,410.11 L512.88,410.19 L513.48,410.27 L514.08,410.34 L514.69,410.42 L515.29,410.49 L515.89,410.57 L516.50,410.64 L517.10,410.71 L517.70,410.77 L518.31,410.84 L518.91,410.91 L519.52,410.97 L520.12,411.03 L520.73,411.10 L521.34,411.16 L521.94,411.22 L522.55,411.28 L523.15,411.33 L523.76,411.39 L524.37,411.44 L524.98,411.50 L525.58,411.55 L526.19,411.60 L526.80,411.66 L527.41,411.71 L528.01,411.75 L528.62,411.80 L529.23,411.85 L529.84,411.90 L530.45,411.94 L531.06,411.99 L531.66,412.03 L532.27,412.08 L532.88,412.12 L533.49,412.16 L534.10,412.20 L534.71,412.24 L535.32,412.28 L535.92,412.32 L536.53,412.36 L537.14,412.40 L537.75,412.43 L538.36,412.47 L538.96,412.51 L539.57,412.54 L540.18,412.58 L540.79,412.61 L541.39,412.65 L542.00,412.68 L542.61,412.71 L543.21,412.75 L543.82,412.78 L544.43,412.81 L545.03,412.85 L545.64,412.88 L546.24,412.91 L546.85,412.94 L547.45,412.97 L548.06,413.00 L548.66,413.03 L549.26,413.06 L549.87,413.09 L550.47,413.12 L551.07,413.15 L551.67,413.18 L552.28,413.21 L552.88,413.24 L553.48,413.27 L554.08,413.30 L554.68,413.32 L555.28,413.35 L555.89,413.38 L556.49,413.41 L557.09,413.43 L557.69,413.46 L558.29,413.49 L558.89,413.51 L559.49,413.54 L560.08,413.57 L560.68,413.59 L561.28,413.62 L561.88,413.64 L562.48,413.67 L563.08,413.69 L563.68,413.72 L564.27,413.74 L564.87,413.76 L565.47,413.79 L566.06,413.81 L566.66,413.83 L567.26,413.86 L567.85,413.88 L568.45,413.90 L569.05,413.93 L569.64,413.95 L570.24,413.97 L570.83,413.99 L571.43,414.01 L572.03,414.03 L572.62,414.05 L573.22,414.07 L573.81,414.10 L574.40,414.12 L575.00,414.14 L575.59,414.16 L576.19,414.18 L576.78,414.19 L577.38,414.21 L577.97,414.23 L578.56,414.25 L579.16,414.27 L579.75,414.29 L580.34,414.31 L580.94,414.32 L581.53,414.34 L582.12,414.36 L582.71,414.38 L583.31,414.39 L583.90,414.41 L584.49,414.43 L585.08,414.44 L585.68,414.46 L586.27,414.48 L586.86,414.49 L587.45,414.51 L588.04,414.52 L588.63,414.54 L589.23,414.55 L589.82,414.57 L590.41,414.58 L591.00,414.60 L591.59,414.61 L592.18,414.62 L592.77,414.64 L593.37,414.65 L593.96,414.67 L594.55,414.68 L595.14,414.69 L595.73,414.70 L596.32,414.72 L596.91,414.73 L597.50,414.74 L598.09,414.75 L598.68,414.77 L599.27,414.78 L599.86,414.79 L600.45,414.80 L601.04,414.81 L601.63,414.82 L602.22,414.83 L602.81,414.84 L603.41,414.86 L604.00,414.87 L604.59,414.88 L605.18,414.89 L605.77,414.90 L606.36,414.91 L606.95,414.91 L607.54,414.92 L608.13,414.93 L608.72,414.94 L609.31,414.95 L609.90,414.96 L610.49,414.97 L611.08,414.98 L611.67,414.98 L612.26,414.99 L612.85,415.00 L613.44,415.01 L614.03,415.02 L614.62,415.02 L615.21,415.03 L615.80,415.04 L616.39,415.04 L616.98,415.05 L617.57,415.06 L618.17,415.06 L618.76,415.07 L619.35,415.08 L619.94,415.08 L620.53,415.09 L621.12,415.09 L621.71,415.10 L622.30,415.10 L622.89,415.11 L623.49,415.11 L624.08,415.12 L624.67,415.12 L625.26,415.13 L625.85,415.13 L626.44,415.14 L627.04,415.14 L627.63,415.15 L628.22,415.15 L628.81,415.15 L629.40,415.16 L630.00,415.16 L630.59,415.16 L631.18,415.17 L631.77,415.17 L632.37,415.17 L632.96,415.18 L633.55,415.18 L634.15,415.18 L634.74,415.18 L635.33,415.19 L635.93,415.19 L636.52,415.20 L637.11,415.20 L637.71,415.20 L638.30,415.20 L638.90,415.20 L639.49,415.20 L640.09,415.20 L640.68,415.20 L641.28,415.20 L641.87,415.20 L642.47,415.20 L643.06,415.20 L643.66,415.20 L644.25,415.20 L644.85,415.20 L645.45,415.20 L646.04,415.20 L646.64,415.20 L647.24,415.20 L647.83,415.20 L648.43,415.20 L649.03,415.20 L649.62,415.20 L650.22,415.20 L650.82,415.20 L651.42,415.20 L652.02,415.20 L652.62,415.20 L653.21,415.20 L653.81,415.20 L654.41,415.20 L655.01,415.20 L655.61,415.20 L656.21,415.20 L636.20,415.20" fill="none" stroke="#1f77b4" stroke-width="2.9" stroke-dasharray="2.9 2.806" stroke-dashoffset="-0.1"/><path d="M120.50,415.20 L225.00,415.20 L225.81,415.20 L226.61,415.20 L227.42,415.20 L228.23,415.20 L229.04,415.20 L229.85,415.20 L230.66,415.20 L231.47,415.20 L232.28,415.20 L233.09,415.20 L233.90,415.20 L234.71,415.20 L235.52,415.20 L236.34,415.20 L237.15,415.20 L237.96,415.20 L238.77,415.20 L239.59,415.20 L240.40,415.20 L241.21,415.20 L242.02,415.20 L242.83,415.20 L243.65,415.20 L244.46,415.20 L245.27,415.20 L246.08,415.20 L246.89,415.20 L247.70,415.20 L248.51,415.20 L249.32,415.20 L250.12,415.20 L250.93,415.20 L251.74,415.20 L252.54,415.20 L253.35,415.20 L254.15,415.20 L254.95,415.12 L255.75,414.98 L256.55,414.83 L257.35,414.66 L258.14,414.47 L258.93,414.27 L259.72,414.05 L260.49,413.80 L261.26,413.55 L262.03,413.27 L262.78,412.97 L263.52,412.66 L264.26,412.33 L264.98,411.98 L265.69,411.61 L266.39,411.22 L267.07,410.81 L267.74,410.38 L268.39,409.93 L269.03,409.46 L269.65,408.97 L270.25,408.45 L270.83,407.92 L271.40,407.37 L271.94,406.80 L272.47,406.21 L272.99,405.61 L273.48,404.99 L273.96,404.35 L274.43,403.70 L274.88,403.03 L275.32,402.35 L275.74,401.66 L276.15,400.96 L276.54,400.24 L276.92,399.52 L277.29,398.79 L277.65,398.05 L278.00,397.30 L278.33,396.54 L278.66,395.78 L278.97,395.01 L279.28,394.24 L279.57,393.47 L279.86,392.69 L280.14,391.91 L280.41,391.13 L280.67,390.34 L280.93,389.56 L281.18,388.78 L281.42,388.00 L281.65,387.21 L281.88,386.43 L282.11,385.64 L282.32,384.86 L282.53,384.07 L282.74,383.29 L282.94,382.50 L283.13,381.71 L283.32,380.93 L283.50,380.14 L283.68,379.35 L283.86,378.56 L284.03,377.77 L284.19,376.98 L284.36,376.19 L284.52,375.40 L284.67,374.61 L284.82,373.82 L284.97,373.03 L285.12,372.24 L285.26,371.45 L285.40,370.66 L285.54,369.86 L285.68,369.07 L285.81,368.28 L285.95,367.49 L286.08,366.69 L286.21,365.90 L286.34,365.10 L286.47,364.31 L286.60,363.52 L286.72,362.72 L286.85,361.93 L286.98,361.13 L287.11,360.34 L287.23,359.54 L287.36,358.75 L287.49,357.95 L287.62,357.16 L287.75,356.36 L287.88,355.56 L288.01,354.77 L288.14,353.97 L288.27,353.18 L288.40,352.38 L288.53,351.58 L288.66,350.79 L288.79,349.99 L288.93,349.19 L289.06,348.39 L289.19,347.60 L289.32,346.80 L289.45,346.00 L289.58,345.20 L289.72,344.41 L289.85,343.61 L289.98,342.81 L290.11,342.01 L290.24,341.21 L290.37,340.41 L290.50,339.62 L290.64,338.82 L290.77,338.02 L290.90,337.22 L291.03,336.42 L291.16,335.62 L291.29,334.82 L291.42,334.02 L291.55,333.22 L291.67,332.42 L291.80,331.62 L291.93,330.82 L292.06,330.02 L292.19,329.22 L292.31,328.42 L292.44,327.62 L292.56,326.82 L292.69,326.02 L292.81,325.22 L292.94,324.41 L293.06,323.61 L293.19,322.81 L293.31,322.01 L293.43,321.21 L293.55,320.41 L293.67,319.60 L293.79,318.80 L293.91,318.00 L294.03,317.20 L294.14,316.40 L294.26,315.59 L294.38,314.79 L294.49,313.99 L294.60,313.19 L294.72,312.38 L294.83,311.58 L294.94,310.78 L295.05,309.98 L295.16,309.17 L295.27,308.37 L295.37,307.57 L295.48,306.76 L295.58,305.96 L295.69,305.16 L295.79,304.35 L295.89,303.55 L295.99,302.74 L296.09,301.94 L296.19,301.14 L296.28,300.33 L296.38,299.53 L296.47,298.72 L296.57,297.92 L296.66,297.11 L296.75,296.31 L296.84,295.51 L296.92,294.70 L297.01,293.90 L297.10,293.09 L297.18,292.29 L297.27,291.48 L297.35,290.68 L297.43,289.87 L297.51,289.07 L297.59,288.26 L297.67,287.46 L297.75,286.65 L297.83,285.85 L297.90,285.04 L297.98,284.24 L298.05,283.43 L298.13,282.62 L298.20,281.82 L298.27,281.01 L298.34,280.21 L298.42,279.40 L298.49,278.60 L298.56,277.79 L298.63,276.98 L298.70,276.18 L298.76,275.37 L298.83,274.57 L298.90,273.76 L298.97,272.95 L299.03,272.15 L299.10,271.34 L299.16,270.54 L299.23,269.73 L299.29,268.92 L299.36,268.12 L299.42,267.31 L299.49,266.51 L299.55,265.70 L299.61,264.89 L299.68,264.09 L299.74,263.28 L299.80,262.47 L299.87,261.67 L299.93,260.86 L299.99,260.06 L300.06,259.25 L300.12,258.44 L300.18,257.64 L300.24,256.83 L300.31,256.02 L300.37,255.22 L300.43,254.41 L300.50,253.61 L300.56,252.80 L300.62,251.99 L300.69,251.19 L300.75,250.38 L300.81,249.57 L300.88,248.77 L300.94,247.96 L301.01,247.16 L301.07,246.35 L301.14,245.54 L301.21,244.74 L301.27,243.93 L301.34,243.13 L301.41,242.32 L301.47,241.51 L301.54,240.71 L301.61,239.90 L301.68,239.10 L301.75,238.29 L301.82,237.48 L301.89,236.68 L301.97,235.87 L302.04,235.07 L302.11,234.26 L302.18,233.45 L302.26,232.65 L302.33,231.84 L302.41,231.04 L302.48,230.23 L302.56,229.43 L302.64,228.62 L302.71,227.82 L302.79,227.01 L302.87,226.20 L302.95,225.40 L303.02,224.59 L303.10,223.79 L303.18,222.98 L303.26,222.18 L303.34,221.37 L303.42,220.57 L303.50,219.76 L303.59,218.96 L303.67,218.15 L303.75,217.35 L303.83,216.54 L303.92,215.74 L304.00,214.93 L304.08,214.13 L304.17,213.32 L304.25,212.52 L304.34,211.71 L304.42,210.91 L304.51,210.10 L304.59,209.30 L304.68,208.49 L304.76,207.69 L304.85,206.88 L304.94,206.08 L305.03,205.27 L305.11,204.47 L305.20,203.66 L305.29,202.86 L305.38,202.05 L305.47,201.25 L305.55,200.44 L305.64,199.64 L305.73,198.83 L305.82,198.03 L305.91,197.23 L306.00,196.42 L306.09,195.62 L306.18,194.81 L306.27,194.01 L306.36,193.20 L306.45,192.40 L306.54,191.59 L306.64,190.79 L306.73,189.98 L306.82,189.18 L306.91,188.38 L307.00,187.57 L307.09,186.77 L307.19,185.96 L307.28,185.16 L307.37,184.35 L307.46,183.55 L307.55,182.75 L307.65,181.94 L307.74,181.14 L307.83,180.33 L307.92,179.53 L308.02,178.72 L308.11,177.92 L308.20,177.12 L308.30,176.31 L308.39,175.51 L308.48,174.70 L308.57,173.90 L308.67,173.09 L308.76,172.29 L308.85,171.49 L308.95,170.68 L309.04,169.88 L309.13,169.07 L309.23,168.27 L309.32,167.47 L309.41,166.66 L309.50,165.86 L309.60,165.05 L309.69,164.25 L309.78,163.45 L309.87,162.64 L309.97,161.84 L310.06,161.03 L310.15,160.23 L310.24,159.43 L310.34,158.62 L310.43,157.82 L310.52,157.01 L310.61,156.21 L310.70,155.41 L310.80,154.60 L310.89,153.80 L310.98,152.99 L311.07,152.19 L311.16,151.39 L311.25,150.58 L311.34,149.78 L311.43,148.97 L311.52,148.17 L311.61,147.37 L311.70,146.56 L311.79,145.76 L311.88,144.95 L311.97,144.15 L312.06,143.35 L312.15,142.54 L312.24,141.74 L312.32,140.93 L312.41,140.13 L312.50,139.33 L312.59,138.52 L312.67,137.72 L312.76,136.91 L312.85,136.11 L312.93,135.31 L313.02,134.50 L313.10,133.70 L313.19,132.90 L313.27,132.09 L313.36,131.29 L313.44,130.48 L313.53,129.68 L313.61,128.88 L313.69,128.07 L313.78,127.27 L313.86,126.46 L313.94,125.66 L314.02,124.86 L314.11,124.05 L314.19,123.25 L314.27,122.44 L314.35,121.64 L314.43,120.84 L314.51,120.03 L314.58,119.23 L314.66,118.42 L314.74,117.62 L314.82,116.82 L314.90,116.01 L314.97,115.21 L315.05,114.40 L315.13,113.60 L315.21,112.79 L315.28,111.99 L315.36,111.19 L315.44,110.38 L315.51,109.58 L315.59,108.77 L315.67,107.97 L315.74,107.17 L315.82,106.36 L315.90,105.56 L315.98,104.75 L316.05,103.95 L316.13,103.14 L316.21,102.34 L316.29,101.54 L316.37,100.73 L316.45,99.93 L316.53,99.12 L316.61,98.32 L316.69,97.51 L316.78,96.71 L316.86,95.91 L316.94,95.10 L317.03,94.30 L317.11,93.49 L317.20,92.69 L317.29,91.88 L317.37,91.08 L317.46,90.27 L317.55,89.47 L317.64,88.67 L317.74,87.86 L317.83,87.06 L317.92,86.25 L318.02,85.45 L318.11,84.64 L318.21,83.84 L318.31,83.03 L318.41,82.23 L318.51,81.42 L318.62,80.62 L318.72,79.81 L318.83,79.01 L318.94,78.20 L319.04,77.40 L319.16,76.59 L319.27,75.79 L319.38,74.98 L319.50,74.18 L319.62,73.37 L319.73,72.57 L319.86,71.76 L319.98,70.96 L320.10,70.15 L320.23,69.35 L320.36,68.54 L320.49,67.74 L320.62,66.93 L320.76,66.13 L320.90,65.32 L321.03,64.52 L321.18,63.71 L321.32,62.91 L321.47,62.10 L321.61,61.30 L321.77,60.49 L321.93,59.69 L322.10,58.89 L322.29,58.11 L322.50,57.32 L322.73,56.55 L322.98,55.79 L323.26,55.05 L323.58,54.32 L323.93,53.61 L324.32,52.91 L324.75,52.24 L325.22,51.59 L325.75,50.97 L326.32,50.37 L326.96,49.79 L327.64,49.27 L328.35,48.86 L329.04,48.69 L329.69,48.83 L330.28,49.22 L330.84,49.78 L331.36,50.41 L331.85,51.06 L332.32,51.72 L332.77,52.40 L333.19,53.08 L333.59,53.77 L333.96,54.48 L334.32,55.20 L334.65,55.92 L334.97,56.66 L335.27,57.40 L335.56,58.15 L335.83,58.91 L336.08,59.68 L336.32,60.45 L336.55,61.22 L336.77,62.01 L336.98,62.79 L337.18,63.59 L337.37,64.38 L337.55,65.18 L337.73,65.98 L337.90,66.78 L338.07,67.58 L338.24,68.39 L338.40,69.19 L338.57,69.99 L338.73,70.80 L338.90,71.60 L339.06,72.40 L339.23,73.20 L339.39,74.00 L339.56,74.80 L339.72,75.60 L339.89,76.40 L340.06,77.20 L340.22,77.99 L340.39,78.79 L340.55,79.59 L340.72,80.38 L340.89,81.18 L341.05,81.97 L341.22,82.77 L341.39,83.56 L341.55,84.35 L341.72,85.15 L341.89,85.94 L342.05,86.73 L342.22,87.52 L342.38,88.31 L342.55,89.11 L342.72,89.90 L342.88,90.69 L343.05,91.48 L343.21,92.27 L343.38,93.06 L343.54,93.85 L343.71,94.64 L343.87,95.43 L344.03,96.22 L344.20,97.01 L344.36,97.80 L344.52,98.59 L344.68,99.39 L344.85,100.18 L345.01,100.97 L345.17,101.76 L345.33,102.55 L345.49,103.34 L345.65,104.13 L345.81,104.92 L345.97,105.72 L346.13,106.51 L346.28,107.30 L346.44,108.09 L346.60,108.88 L346.76,109.68 L346.91,110.47 L347.07,111.26 L347.23,112.05 L347.38,112.85 L347.54,113.64 L347.69,114.43 L347.85,115.22 L348.00,116.02 L348.15,116.81 L348.31,117.60 L348.46,118.40 L348.61,119.19 L348.77,119.99 L348.92,120.78 L349.07,121.57 L349.22,122.37 L349.37,123.16 L349.53,123.96 L349.68,124.75 L349.83,125.54 L349.98,126.34 L350.13,127.13 L350.28,127.93 L350.43,128.72 L350.58,129.52 L350.72,130.31 L350.87,131.11 L351.02,131.90 L351.17,132.70 L351.32,133.49 L351.47,134.29 L351.61,135.08 L351.76,135.88 L351.91,136.67 L352.06,137.47 L352.20,138.27 L352.35,139.06 L352.49,139.86 L352.64,140.65 L352.79,141.45 L352.93,142.24 L353.08,143.04 L353.22,143.84 L353.37,144.63 L353.51,145.43 L353.66,146.23 L353.80,147.02 L353.95,147.82 L354.09,148.61 L354.24,149.41 L354.38,150.21 L354.53,151.00 L354.67,151.80 L354.82,152.60 L354.96,153.39 L355.10,154.19 L355.25,154.99 L355.39,155.78 L355.53,156.58 L355.68,157.38 L355.82,158.17 L355.96,158.97 L356.11,159.77 L356.25,160.56 L356.39,161.36 L356.54,162.16 L356.68,162.96 L356.82,163.75 L356.96,164.55 L357.11,165.35 L357.25,166.14 L357.39,166.94 L357.54,167.74 L357.68,168.53 L357.82,169.33 L357.96,170.13 L358.11,170.93 L358.25,171.72 L358.39,172.52 L358.54,173.32 L358.68,174.11 L358.82,174.91 L358.96,175.71 L359.11,176.51 L359.25,177.30 L359.39,178.10 L359.54,178.90 L359.68,179.69 L359.82,180.49 L359.97,181.29 L360.11,182.08 L360.25,182.88 L360.40,183.68 L360.54,184.48 L360.68,185.27 L360.83,186.07 L360.97,186.87 L361.12,187.66 L361.26,188.46 L361.40,189.26 L361.55,190.05 L361.69,190.85 L361.84,191.65 L361.98,192.44 L362.13,193.24 L362.27,194.04 L362.42,194.83 L362.57,195.63 L362.71,196.43 L362.86,197.22 L363.00,198.02 L363.15,198.82 L363.30,199.61 L363.45,200.41 L363.59,201.21 L363.74,202.00 L363.89,202.80 L364.04,203.59 L364.18,204.39 L364.33,205.19 L364.48,205.98 L364.63,206.78 L364.78,207.57 L364.93,208.37 L365.08,209.16 L365.23,209.96 L365.38,210.76 L365.53,211.55 L365.68,212.35 L365.83,213.14 L365.99,213.94 L366.14,214.73 L366.29,215.53 L366.44,216.32 L366.60,217.12 L366.75,217.91 L366.90,218.71 L367.06,219.50 L367.21,220.30 L367.37,221.09 L367.52,221.88 L367.68,222.68 L367.84,223.47 L367.99,224.27 L368.15,225.06 L368.31,225.85 L368.47,226.65 L368.62,227.44 L368.78,228.24 L368.94,229.03 L369.10,229.82 L369.26,230.62 L369.42,231.41 L369.58,232.20 L369.75,233.00 L369.91,233.79 L370.07,234.58 L370.23,235.37 L370.40,236.17 L370.56,236.96 L370.72,237.75 L370.89,238.54 L371.06,239.33 L371.22,240.13 L371.39,240.92 L371.56,241.71 L371.72,242.50 L371.89,243.29 L372.06,244.08 L372.23,244.87 L372.40,245.67 L372.57,246.46 L372.74,247.25 L372.91,248.04 L373.08,248.83 L373.26,249.62 L373.43,250.41 L373.61,251.20 L373.78,251.99 L373.96,252.78 L374.13,253.57 L374.31,254.36 L374.48,255.15 L374.66,255.93 L374.84,256.72 L375.02,257.51 L375.20,258.30 L375.38,259.09 L375.56,259.88 L375.74,260.67 L375.93,261.45 L376.11,262.24 L376.29,263.03 L376.48,263.82 L376.66,264.60 L376.85,265.39 L377.04,266.18 L377.22,266.96 L377.41,267.75 L377.60,268.54 L377.79,269.32 L377.98,270.11 L378.17,270.89 L378.37,271.68 L378.56,272.47 L378.75,273.25 L378.95,274.04 L379.14,274.82 L379.34,275.61 L379.53,276.39 L379.73,277.17 L379.93,277.96 L380.13,278.74 L380.33,279.53 L380.53,280.31 L380.73,281.09 L380.93,281.88 L381.14,282.66 L381.34,283.44 L381.55,284.22 L381.75,285.01 L381.96,285.79 L382.17,286.57 L382.38,287.35 L382.59,288.13 L382.80,288.91 L383.01,289.69 L383.22,290.47 L383.43,291.26 L383.65,292.04 L383.86,292.82 L384.08,293.60 L384.30,294.37 L384.51,295.15 L384.73,295.93 L384.95,296.71 L385.17,297.49 L385.40,298.27 L385.62,299.05 L385.84,299.83 L386.07,300.60 L386.29,301.38 L386.52,302.16 L386.75,302.93 L386.97,303.71 L387.20,304.49 L387.44,305.26 L387.67,306.04 L387.90,306.82 L388.13,307.59 L388.37,308.37 L388.60,309.14 L388.84,309.92 L389.08,310.69 L389.32,311.46 L389.56,312.24 L389.80,313.01 L390.04,313.78 L390.29,314.56 L390.53,315.33 L390.78,316.10 L391.02,316.87 L391.27,317.65 L391.52,318.42 L391.77,319.19 L392.02,319.96 L392.28,320.73 L392.53,321.50 L392.79,322.27 L393.04,323.04 L393.30,323.81 L393.56,324.58 L393.82,325.34 L394.09,326.11 L394.35,326.88 L394.62,327.64 L394.89,328.41 L395.16,329.17 L395.44,329.93 L395.71,330.69 L395.99,331.45 L396.27,332.21 L396.55,332.97 L396.83,333.73 L397.12,334.49 L397.41,335.24 L397.70,336.00 L397.99,336.75 L398.29,337.50 L398.59,338.26 L398.89,339.01 L399.20,339.75 L399.50,340.50 L399.81,341.25 L400.13,341.99 L400.44,342.73 L400.76,343.48 L401.08,344.21 L401.41,344.95 L401.74,345.69 L402.07,346.42 L402.40,347.16 L402.74,347.89 L403.08,348.62 L403.43,349.35 L403.77,350.07 L404.13,350.80 L404.48,351.52 L404.84,352.24 L405.20,352.96 L405.57,353.68 L405.94,354.39 L406.32,355.10 L406.70,355.81 L407.08,356.52 L407.46,357.23 L407.85,357.93 L408.25,358.63 L408.65,359.33 L409.05,360.03 L409.46,360.72 L409.87,361.41 L410.29,362.10 L410.71,362.79 L411.14,363.47 L411.57,364.16 L412.00,364.84 L412.44,365.51 L412.89,366.19 L413.34,366.86 L413.79,367.53 L414.25,368.19 L414.71,368.86 L415.18,369.52 L415.65,370.18 L416.13,370.83 L416.61,371.48 L417.09,372.14 L417.58,372.78 L418.08,373.43 L418.57,374.07 L419.07,374.71 L419.58,375.35 L420.08,375.99 L420.59,376.62 L421.11,377.26 L421.63,377.89 L422.15,378.51 L422.67,379.14 L423.20,379.76 L423.73,380.38 L424.26,381.00 L424.79,381.62 L425.33,382.23 L425.87,382.85 L426.41,383.46 L426.95,384.07 L427.50,384.67 L428.05,385.28 L428.60,385.88 L429.15,386.48 L429.71,387.08 L430.27,387.67 L430.83,388.26 L431.39,388.85 L431.96,389.43 L432.53,390.01 L433.10,390.59 L433.68,391.16 L434.26,391.72 L434.85,392.28 L435.44,392.84 L436.03,393.38 L436.62,393.93 L437.22,394.46 L437.83,394.99 L438.44,395.52 L439.05,396.03 L439.67,396.54 L440.29,397.04 L440.92,397.54 L441.56,398.02 L442.19,398.50 L442.84,398.97 L443.49,399.43 L444.14,399.88 L444.80,400.32 L445.47,400.75 L446.14,401.17 L446.82,401.58 L447.50,401.98 L448.19,402.37 L448.89,402.75 L449.60,403.12 L450.30,403.48 L451.02,403.82 L451.74,404.16 L452.47,404.49 L453.20,404.80 L453.94,405.11 L454.68,405.41 L455.43,405.70 L456.18,405.98 L456.94,406.25 L457.70,406.51 L458.47,406.76 L459.24,407.01 L460.01,407.25 L460.79,407.48 L461.57,407.70 L462.36,407.91 L463.15,408.12 L463.94,408.32 L464.73,408.51 L465.53,408.70 L466.33,408.88 L467.13,409.06 L467.93,409.23 L468.74,409.39 L469.55,409.54 L470.36,409.70 L471.17,409.84 L471.98,409.98 L472.79,410.12 L473.61,410.25 L474.42,410.38 L475.24,410.50 L476.06,410.62 L476.87,410.74 L477.69,410.85 L478.51,410.96 L479.33,411.07 L480.14,411.17 L480.96,411.27 L481.77,411.37 L482.59,411.46 L483.40,411.56 L484.21,411.65 L485.03,411.74 L485.84,411.82 L486.65,411.91 L487.46,411.99 L488.27,412.07 L489.08,412.14 L489.89,412.22 L490.70,412.29 L491.50,412.36 L492.31,412.43 L493.12,412.50 L493.92,412.57 L494.73,412.63 L495.54,412.69 L496.34,412.75 L497.15,412.81 L497.95,412.87 L498.75,412.93 L499.56,412.98 L500.36,413.03 L501.17,413.08 L501.97,413.13 L502.77,413.18 L503.57,413.23 L504.38,413.28 L505.18,413.32 L505.98,413.37 L506.78,413.41 L507.59,413.45 L508.39,413.49 L509.19,413.53 L509.99,413.57 L510.80,413.61 L511.60,413.64 L512.40,413.68 L513.20,413.71 L514.01,413.75 L514.81,413.78 L515.61,413.81 L516.41,413.85 L517.22,413.88 L518.02,413.91 L518.82,413.94 L519.63,413.97 L520.43,414.00 L521.24,414.03 L522.04,414.06 L522.85,414.09 L523.65,414.12 L524.45,414.14 L525.26,414.17 L526.07,414.20 L526.87,414.22 L527.68,414.25 L528.48,414.28 L529.29,414.30 L530.09,414.32 L530.90,414.35 L531.71,414.37 L532.51,414.40 L533.32,414.42 L534.13,414.44 L534.93,414.46 L535.74,414.48 L536.55,414.50 L537.36,414.52 L538.16,414.54 L538.97,414.56 L539.78,414.58 L540.59,414.60 L541.40,414.62 L542.20,414.64 L543.01,414.66 L543.82,414.67 L544.63,414.69 L545.44,414.71 L546.25,414.72 L547.06,414.74 L547.87,414.76 L548.67,414.77 L549.48,414.79 L550.29,414.80 L551.10,414.81 L551.91,414.83 L552.72,414.84 L553.53,414.85 L554.34,414.87 L555.15,414.88 L555.96,414.89 L556.77,414.90 L557.58,414.92 L558.39,414.93 L559.20,414.94 L560.01,414.95 L560.82,414.96 L561.63,414.97 L562.45,414.98 L563.26,414.99 L564.07,415.00 L564.88,415.01 L565.69,415.01 L566.50,415.02 L567.31,415.03 L568.12,415.04 L568.93,415.05 L569.74,415.05 L570.55,415.06 L571.37,415.07 L572.18,415.07 L572.99,415.08 L573.80,415.09 L574.61,415.09 L575.42,415.10 L576.23,415.10 L577.04,415.11 L577.86,415.12 L578.67,415.12 L579.48,415.13 L580.29,415.13 L581.10,415.13 L581.91,415.14 L582.72,415.14 L583.53,415.15 L584.35,415.15 L585.16,415.15 L585.97,415.16 L586.78,415.16 L587.59,415.16 L588.40,415.17 L589.21,415.17 L590.02,415.17 L590.84,415.17 L591.65,415.18 L592.46,415.18 L593.27,415.18 L594.08,415.18 L594.89,415.18 L595.70,415.18 L596.51,415.19 L597.32,415.19 L598.14,415.19 L598.95,415.19 L599.76,415.19 L600.57,415.20 L601.38,415.20 L602.19,415.20 L603.00,415.20 L603.81,415.20 L604.62,415.20 L605.43,415.20 L606.24,415.20 L607.05,415.20 L607.86,415.20 L608.67,415.20 L609.48,415.20 L610.29,415.20 L611.10,415.20 L611.91,415.20 L612.72,415.20 L613.53,415.20 L614.34,415.20 L615.15,415.20 L615.95,415.20 L616.76,415.20 L617.57,415.20 L618.38,415.20 L619.19,415.20 L620.00,415.20 L636.20,415.20" fill="none" stroke="#ff7f0e" stroke-width="5.56" stroke-linejoin="round"/><path d="M120.50,415.20 L140.00,415.20 L140.63,415.20 L141.27,415.20 L141.90,415.20 L142.54,415.20 L143.17,415.20 L143.80,415.20 L144.44,415.20 L145.07,415.20 L145.70,415.20 L146.34,415.20 L146.97,415.20 L147.60,415.20 L148.23,415.20 L148.86,415.20 L149.49,415.20 L150.12,415.20 L150.76,415.20 L151.39,415.20 L152.02,415.20 L152.65,415.20 L153.28,415.20 L153.91,415.20 L154.54,415.20 L155.16,415.20 L155.79,415.20 L156.42,415.20 L157.05,415.20 L157.68,415.20 L158.31,415.20 L158.93,415.20 L159.56,415.20 L160.19,415.20 L160.82,415.20 L161.44,415.20 L162.07,415.20 L162.70,415.20 L163.32,415.20 L163.95,415.20 L164.58,415.20 L165.20,415.20 L165.83,415.20 L166.46,415.20 L167.08,415.20 L167.71,415.19 L168.33,415.16 L168.96,415.14 L169.58,415.11 L170.21,415.08 L170.83,415.04 L171.46,415.01 L172.08,414.97 L172.70,414.92 L173.33,414.87 L173.95,414.82 L174.58,414.77 L175.20,414.71 L175.82,414.65 L176.45,414.58 L177.07,414.52 L177.70,414.44 L178.32,414.36 L178.94,414.28 L179.57,414.20 L180.19,414.11 L180.81,414.01 L181.44,413.91 L182.06,413.81 L182.68,413.70 L183.30,413.58 L183.93,413.46 L184.55,413.34 L185.17,413.21 L185.79,413.07 L186.42,412.93 L187.04,412.78 L187.66,412.63 L188.28,412.47 L188.90,412.31 L189.52,412.14 L190.14,411.97 L190.76,411.80 L191.38,411.61 L192.00,411.42 L192.61,411.23 L193.23,411.03 L193.84,410.83 L194.45,410.62 L195.06,410.41 L195.67,410.19 L196.28,409.97 L196.89,409.74 L197.50,409.51 L198.10,409.27 L198.70,409.03 L199.30,408.78 L199.90,408.53 L200.49,408.28 L201.09,408.02 L201.68,407.75 L202.27,407.48 L202.85,407.21 L203.44,406.93 L204.02,406.64 L204.60,406.35 L205.18,406.06 L205.75,405.76 L206.32,405.46 L206.89,405.15 L207.45,404.84 L208.01,404.53 L208.57,404.21 L209.13,403.89 L209.68,403.56 L210.23,403.22 L210.77,402.89 L211.31,402.55 L211.85,402.20 L212.38,401.85 L212.91,401.50 L213.44,401.14 L213.96,400.78 L214.48,400.41 L214.99,400.04 L215.50,399.67 L216.01,399.29 L216.51,398.91 L217.01,398.52 L217.50,398.13 L217.99,397.74 L218.47,397.34 L218.95,396.94 L219.43,396.54 L219.90,396.13 L220.37,395.72 L220.83,395.30 L221.29,394.88 L221.75,394.46 L222.20,394.03 L222.65,393.60 L223.09,393.17 L223.53,392.73 L223.97,392.30 L224.40,391.85 L224.83,391.41 L225.26,390.96 L225.68,390.50 L226.10,390.05 L226.52,389.59 L226.93,389.13 L227.34,388.66 L227.75,388.19 L228.15,387.72 L228.55,387.25 L228.95,386.77 L229.34,386.29 L229.73,385.81 L230.12,385.33 L230.50,384.84 L230.88,384.35 L231.26,383.86 L231.64,383.36 L232.01,382.86 L232.38,382.36 L232.75,381.86 L233.11,381.36 L233.47,380.85 L233.83,380.34 L234.18,379.83 L234.54,379.31 L234.89,378.80 L235.24,378.28 L235.58,377.76 L235.93,377.23 L236.27,376.71 L236.61,376.18 L236.94,375.65 L237.28,375.12 L237.61,374.59 L237.94,374.05 L238.26,373.52 L238.59,372.98 L238.91,372.44 L239.23,371.90 L239.55,371.35 L239.87,370.81 L240.19,370.26 L240.50,369.71 L240.81,369.16 L241.12,368.61 L241.43,368.06 L241.73,367.50 L242.04,366.95 L242.34,366.39 L242.64,365.83 L242.94,365.28 L243.24,364.71 L243.54,364.15 L243.83,363.59 L244.13,363.03 L244.42,362.46 L244.71,361.90 L245.00,361.33 L245.29,360.76 L245.57,360.19 L245.86,359.63 L246.15,359.06 L246.43,358.48 L246.71,357.91 L246.99,357.34 L247.28,356.77 L247.56,356.19 L247.83,355.62 L248.11,355.05 L248.39,354.47 L248.67,353.90 L248.94,353.32 L249.22,352.74 L249.49,352.17 L249.77,351.59 L250.04,351.01 L250.31,350.44 L250.58,349.86 L250.86,349.28 L251.13,348.71 L251.40,348.13 L251.67,347.55 L251.94,346.97 L252.21,346.40 L252.48,345.82 L252.75,345.24 L253.01,344.66 L253.28,344.09 L253.55,343.51 L253.82,342.93 L254.09,342.35 L254.35,341.78 L254.62,341.20 L254.89,340.62 L255.15,340.04 L255.42,339.46 L255.68,338.89 L255.95,338.31 L256.21,337.73 L256.47,337.15 L256.74,336.57 L257.00,336.00 L257.26,335.42 L257.52,334.84 L257.79,334.26 L258.05,333.68 L258.31,333.11 L258.57,332.53 L258.83,331.95 L259.09,331.37 L259.35,330.79 L259.61,330.21 L259.87,329.63 L260.12,329.05 L260.38,328.48 L260.64,327.90 L260.90,327.32 L261.15,326.74 L261.41,326.16 L261.66,325.58 L261.92,325.00 L262.17,324.42 L262.43,323.84 L262.68,323.26 L262.94,322.68 L263.19,322.10 L263.44,321.52 L263.69,320.94 L263.94,320.36 L264.20,319.78 L264.45,319.20 L264.70,318.62 L264.95,318.04 L265.20,317.46 L265.45,316.88 L265.69,316.30 L265.94,315.72 L266.19,315.14 L266.44,314.56 L266.68,313.98 L266.93,313.40 L267.18,312.82 L267.42,312.24 L267.67,311.65 L267.91,311.07 L268.16,310.49 L268.40,309.91 L268.64,309.33 L268.89,308.75 L269.13,308.16 L269.37,307.58 L269.61,307.00 L269.85,306.42 L270.09,305.83 L270.33,305.25 L270.57,304.67 L270.81,304.09 L271.05,303.50 L271.29,302.92 L271.52,302.34 L271.76,301.75 L272.00,301.17 L272.23,300.59 L272.47,300.00 L272.71,299.42 L272.94,298.83 L273.17,298.25 L273.41,297.66 L273.64,297.08 L273.87,296.50 L274.11,295.91 L274.34,295.33 L274.57,294.74 L274.80,294.15 L275.03,293.57 L275.26,292.98 L275.49,292.40 L275.72,291.81 L275.94,291.23 L276.17,290.64 L276.40,290.05 L276.63,289.47 L276.85,288.88 L277.08,288.29 L277.30,287.71 L277.53,287.12 L277.75,286.53 L277.97,285.94 L278.20,285.36 L278.42,284.77 L278.64,284.18 L278.86,283.59 L279.08,283.00 L279.30,282.41 L279.52,281.82 L279.74,281.24 L279.96,280.65 L280.18,280.06 L280.40,279.47 L280.62,278.88 L280.83,278.29 L281.05,277.70 L281.26,277.11 L281.48,276.52 L281.69,275.92 L281.91,275.33 L282.12,274.74 L282.33,274.15 L282.54,273.56 L282.76,272.97 L282.97,272.38 L283.18,271.78 L283.39,271.19 L283.60,270.60 L283.81,270.01 L284.01,269.41 L284.22,268.82 L284.43,268.23 L284.64,267.63 L284.84,267.04 L285.05,266.44 L285.26,265.85 L285.46,265.26 L285.67,264.66 L285.87,264.07 L286.08,263.47 L286.28,262.88 L286.49,262.28 L286.69,261.69 L286.90,261.09 L287.10,260.49 L287.31,259.90 L287.51,259.30 L287.72,258.71 L287.92,258.11 L288.13,257.52 L288.33,256.92 L288.54,256.32 L288.74,255.73 L288.95,255.13 L289.15,254.53 L289.36,253.94 L289.56,253.34 L289.77,252.74 L289.97,252.14 L290.18,251.55 L290.39,250.95 L290.60,250.35 L290.80,249.76 L291.01,249.16 L291.22,248.56 L291.43,247.96 L291.64,247.37 L291.85,246.77 L292.06,246.17 L292.27,245.57 L292.48,244.98 L292.70,244.38 L292.91,243.78 L293.13,243.18 L293.34,242.59 L293.56,241.99 L293.77,241.39 L293.99,240.79 L294.21,240.19 L294.43,239.60 L294.65,239.00 L294.87,238.40 L295.09,237.80 L295.31,237.21 L295.53,236.61 L295.76,236.01 L295.99,235.41 L296.21,234.82 L296.44,234.22 L296.67,233.62 L296.90,233.02 L297.13,232.43 L297.36,231.83 L297.60,231.23 L297.83,230.64 L298.07,230.04 L298.31,229.44 L298.55,228.85 L298.79,228.25 L299.03,227.65 L299.27,227.06 L299.52,226.46 L299.76,225.86 L300.01,225.27 L300.26,224.67 L300.51,224.07 L300.76,223.48 L301.02,222.88 L301.27,222.29 L301.53,221.69 L301.79,221.10 L302.05,220.50 L302.31,219.91 L302.57,219.31 L302.84,218.72 L303.11,218.12 L303.38,217.53 L303.65,216.93 L303.92,216.34 L304.20,215.75 L304.48,215.15 L304.76,214.56 L305.04,213.97 L305.32,213.37 L305.61,212.78 L305.90,212.19 L306.19,211.61 L306.48,211.03 L306.79,210.45 L307.09,209.88 L307.40,209.32 L307.71,208.76 L308.04,208.21 L308.36,207.68 L308.69,207.15 L309.03,206.63 L309.38,206.12 L309.74,205.63 L310.10,205.15 L310.47,204.69 L310.85,204.24 L311.23,203.80 L311.63,203.39 L312.04,202.99 L312.45,202.61 L312.88,202.24 L313.32,201.90 L313.77,201.58 L314.23,201.29 L314.70,201.01 L315.18,200.76 L315.68,200.53 L316.18,200.32 L316.70,200.14 L317.22,199.98 L317.75,199.85 L318.29,199.73 L318.84,199.64 L319.39,199.57 L319.94,199.53 L320.50,199.50 L321.06,199.50 L321.62,199.52 L322.18,199.56 L322.74,199.63 L323.31,199.71 L323.87,199.82 L324.42,199.94 L324.98,200.09 L325.53,200.26 L326.07,200.45 L326.61,200.66 L327.15,200.89 L327.67,201.15 L328.19,201.42 L328.71,201.71 L329.21,202.01 L329.72,202.34 L330.21,202.68 L330.70,203.04 L331.19,203.42 L331.66,203.81 L332.14,204.21 L332.60,204.63 L333.07,205.07 L333.52,205.52 L333.97,205.98 L334.42,206.45 L334.86,206.93 L335.29,207.43 L335.72,207.93 L336.14,208.45 L336.56,208.97 L336.98,209.50 L337.39,210.04 L337.79,210.59 L338.19,211.15 L338.59,211.71 L338.98,212.28 L339.36,212.86 L339.74,213.44 L340.12,214.02 L340.49,214.61 L340.86,215.20 L341.23,215.79 L341.59,216.39 L341.94,216.98 L342.30,217.58 L342.64,218.18 L342.99,218.78 L343.33,219.38 L343.67,219.97 L344.00,220.57 L344.33,221.16 L344.66,221.75 L344.98,222.34 L345.30,222.92 L345.62,223.50 L345.93,224.08 L346.24,224.65 L346.55,225.23 L346.86,225.79 L347.16,226.36 L347.46,226.93 L347.76,227.49 L348.05,228.05 L348.34,228.61 L348.63,229.16 L348.92,229.72 L349.21,230.27 L349.49,230.82 L349.77,231.38 L350.05,231.93 L350.33,232.48 L350.60,233.02 L350.88,233.57 L351.15,234.12 L351.42,234.67 L351.69,235.22 L351.96,235.77 L352.23,236.31 L352.49,236.86 L352.76,237.41 L353.02,237.96 L353.29,238.51 L353.55,239.06 L353.81,239.62 L354.07,240.17 L354.33,240.73 L354.59,241.28 L354.85,241.84 L355.11,242.40 L355.37,242.96 L355.63,243.52 L355.88,244.08 L356.14,244.64 L356.40,245.20 L356.65,245.77 L356.91,246.33 L357.16,246.90 L357.41,247.46 L357.67,248.03 L357.92,248.60 L358.17,249.17 L358.42,249.74 L358.68,250.31 L358.93,250.88 L359.18,251.45 L359.43,252.03 L359.68,252.60 L359.93,253.18 L360.18,253.75 L360.43,254.33 L360.67,254.90 L360.92,255.48 L361.17,256.06 L361.42,256.64 L361.67,257.22 L361.91,257.79 L362.16,258.37 L362.41,258.95 L362.65,259.54 L362.90,260.12 L363.15,260.70 L363.39,261.28 L363.64,261.86 L363.89,262.45 L364.13,263.03 L364.38,263.61 L364.62,264.20 L364.87,264.78 L365.11,265.37 L365.36,265.95 L365.60,266.54 L365.85,267.12 L366.10,267.71 L366.34,268.30 L366.59,268.88 L366.83,269.47 L367.08,270.06 L367.32,270.64 L367.57,271.23 L367.82,271.82 L368.06,272.40 L368.31,272.99 L368.56,273.58 L368.80,274.17 L369.05,274.75 L369.30,275.34 L369.54,275.93 L369.79,276.51 L370.04,277.10 L370.29,277.69 L370.53,278.28 L370.78,278.86 L371.03,279.45 L371.28,280.04 L371.53,280.62 L371.78,281.21 L372.03,281.80 L372.28,282.38 L372.53,282.97 L372.78,283.55 L373.03,284.14 L373.29,284.72 L373.54,285.31 L373.79,285.89 L374.04,286.48 L374.30,287.06 L374.55,287.65 L374.81,288.23 L375.06,288.81 L375.32,289.39 L375.58,289.98 L375.83,290.56 L376.09,291.14 L376.35,291.72 L376.61,292.30 L376.87,292.88 L377.13,293.46 L377.39,294.04 L377.65,294.62 L377.91,295.20 L378.17,295.77 L378.43,296.35 L378.70,296.93 L378.96,297.50 L379.22,298.08 L379.49,298.66 L379.76,299.23 L380.02,299.81 L380.29,300.38 L380.56,300.96 L380.83,301.53 L381.09,302.10 L381.36,302.67 L381.64,303.25 L381.91,303.82 L382.18,304.39 L382.45,304.96 L382.73,305.53 L383.00,306.10 L383.27,306.67 L383.55,307.24 L383.83,307.81 L384.10,308.37 L384.38,308.94 L384.66,309.51 L384.94,310.07 L385.22,310.64 L385.50,311.20 L385.79,311.77 L386.07,312.33 L386.35,312.89 L386.64,313.46 L386.92,314.02 L387.21,314.58 L387.50,315.14 L387.79,315.70 L388.07,316.26 L388.37,316.82 L388.66,317.38 L388.95,317.94 L389.24,318.50 L389.53,319.05 L389.83,319.61 L390.13,320.17 L390.42,320.72 L390.72,321.27 L391.02,321.83 L391.32,322.38 L391.62,322.93 L391.92,323.49 L392.22,324.04 L392.53,324.59 L392.83,325.14 L393.14,325.69 L393.44,326.24 L393.75,326.78 L394.06,327.33 L394.37,327.88 L394.68,328.42 L394.99,328.97 L395.31,329.51 L395.62,330.06 L395.94,330.60 L396.25,331.14 L396.57,331.68 L396.89,332.22 L397.21,332.77 L397.53,333.30 L397.85,333.84 L398.18,334.38 L398.50,334.92 L398.83,335.46 L399.15,335.99 L399.48,336.53 L399.81,337.06 L400.14,337.59 L400.47,338.13 L400.81,338.66 L401.14,339.19 L401.48,339.72 L401.81,340.25 L402.15,340.78 L402.49,341.31 L402.83,341.83 L403.17,342.36 L403.52,342.89 L403.86,343.41 L404.21,343.94 L404.56,344.46 L404.90,344.98 L405.25,345.50 L405.61,346.02 L405.96,346.54 L406.31,347.06 L406.67,347.58 L407.02,348.10 L407.38,348.61 L407.74,349.13 L408.10,349.64 L408.46,350.16 L408.83,350.67 L409.19,351.18 L409.56,351.69 L409.93,352.21 L410.30,352.71 L410.67,353.22 L411.04,353.73 L411.42,354.24 L411.79,354.74 L412.17,355.25 L412.55,355.75 L412.93,356.26 L413.31,356.76 L413.69,357.26 L414.07,357.76 L414.46,358.26 L414.85,358.76 L415.24,359.25 L415.63,359.75 L416.02,360.25 L416.41,360.74 L416.81,361.23 L417.21,361.73 L417.61,362.22 L418.01,362.71 L418.41,363.20 L418.81,363.69 L419.22,364.17 L419.62,364.66 L420.03,365.15 L420.44,365.63 L420.86,366.11 L421.27,366.60 L421.68,367.08 L422.10,367.56 L422.52,368.04 L422.94,368.52 L423.36,368.99 L423.79,369.47 L424.21,369.94 L424.64,370.42 L425.07,370.89 L425.50,371.36 L425.93,371.83 L426.37,372.29 L426.80,372.76 L427.24,373.22 L427.68,373.68 L428.12,374.14 L428.56,374.60 L429.01,375.06 L429.45,375.52 L429.90,375.97 L430.35,376.42 L430.80,376.87 L431.26,377.32 L431.71,377.77 L432.17,378.21 L432.63,378.65 L433.09,379.09 L433.55,379.53 L434.01,379.96 L434.48,380.40 L434.95,380.83 L435.42,381.26 L435.89,381.68 L436.36,382.11 L436.84,382.53 L437.31,382.95 L437.79,383.36 L438.27,383.78 L438.76,384.19 L439.24,384.60 L439.73,385.00 L440.21,385.40 L440.70,385.80 L441.19,386.20 L441.69,386.60 L442.18,386.99 L442.68,387.38 L443.18,387.76 L443.68,388.15 L444.18,388.53 L444.69,388.90 L445.19,389.28 L445.70,389.65 L446.21,390.02 L446.73,390.38 L447.24,390.74 L447.76,391.10 L448.27,391.45 L448.79,391.80 L449.31,392.15 L449.84,392.49 L450.36,392.83 L450.89,393.17 L451.42,393.50 L451.95,393.83 L452.49,394.16 L453.02,394.48 L453.56,394.80 L454.10,395.11 L454.64,395.42 L455.18,395.73 L455.73,396.03 L456.27,396.33 L456.82,396.63 L457.37,396.92 L457.93,397.21 L458.48,397.49 L459.04,397.77 L459.60,398.04 L460.16,398.31 L460.72,398.58 L461.28,398.84 L461.85,399.10 L462.42,399.36 L462.99,399.61 L463.56,399.86 L464.13,400.10 L464.71,400.34 L465.28,400.58 L465.86,400.81 L466.44,401.04 L467.02,401.27 L467.61,401.49 L468.19,401.71 L468.78,401.92 L469.36,402.14 L469.95,402.35 L470.54,402.55 L471.13,402.75 L471.73,402.95 L472.32,403.15 L472.92,403.34 L473.52,403.53 L474.11,403.72 L474.71,403.91 L475.32,404.09 L475.92,404.27 L476.52,404.44 L477.13,404.61 L477.73,404.78 L478.34,404.95 L478.95,405.12 L479.56,405.28 L480.17,405.44 L480.78,405.59 L481.39,405.75 L482.00,405.90 L482.62,406.05 L483.23,406.20 L483.85,406.34 L484.47,406.48 L485.08,406.62 L485.70,406.76 L486.32,406.89 L486.94,407.03 L487.56,407.16 L488.18,407.29 L488.81,407.41 L489.43,407.54 L490.05,407.66 L490.68,407.78 L491.30,407.90 L491.93,408.02 L492.56,408.13 L493.18,408.24 L493.81,408.35 L494.44,408.46 L495.07,408.57 L495.69,408.68 L496.32,408.78 L496.95,408.89 L497.58,408.99 L498.21,409.09 L498.84,409.19 L499.47,409.28 L500.10,409.38 L500.74,409.47 L501.37,409.57 L502.00,409.66 L502.63,409.75 L503.26,409.84 L503.90,409.93 L504.53,410.01 L505.16,410.10 L505.79,410.18 L506.43,410.27 L507.06,410.35 L507.69,410.43 L508.32,410.51 L508.95,410.59 L509.59,410.67 L510.22,410.75 L510.85,410.83 L511.48,410.91 L512.12,410.98 L512.75,411.06 L513.38,411.13 L514.01,411.21 L514.65,411.28 L515.28,411.35 L515.91,411.42 L516.54,411.49 L517.17,411.56 L517.81,411.63 L518.44,411.70 L519.07,411.76 L519.70,411.83 L520.34,411.89 L520.97,411.96 L521.60,412.02 L522.23,412.08 L522.86,412.14 L523.50,412.20 L524.13,412.27 L524.76,412.32 L525.39,412.38 L526.02,412.44 L526.66,412.50 L527.29,412.55 L527.92,412.61 L528.55,412.66 L529.18,412.72 L529.81,412.77 L530.45,412.82 L531.08,412.88 L531.71,412.93 L532.34,412.98 L532.97,413.03 L533.61,413.08 L534.24,413.12 L534.87,413.17 L535.50,413.22 L536.13,413.27 L536.76,413.31 L537.40,413.36 L538.03,413.40 L538.66,413.44 L539.29,413.49 L539.92,413.53 L540.56,413.57 L541.19,413.61 L541.82,413.65 L542.45,413.69 L543.08,413.73 L543.71,413.77 L544.35,413.80 L544.98,413.84 L545.61,413.88 L546.24,413.91 L546.87,413.95 L547.50,413.98 L548.13,414.02 L548.77,414.05 L549.40,414.08 L550.03,414.12 L550.66,414.15 L551.29,414.18 L551.92,414.21 L552.56,414.24 L553.19,414.27 L553.82,414.30 L554.45,414.33 L555.08,414.35 L555.71,414.38 L556.35,414.41 L556.98,414.43 L557.61,414.46 L558.24,414.48 L558.87,414.51 L559.50,414.53 L560.13,414.56 L560.77,414.58 L561.40,414.60 L562.03,414.62 L562.66,414.65 L563.29,414.67 L563.92,414.69 L564.55,414.71 L565.19,414.73 L565.82,414.75 L566.45,414.76 L567.08,414.78 L567.71,414.80 L568.34,414.82 L568.98,414.84 L569.61,414.85 L570.24,414.87 L570.87,414.88 L571.50,414.90 L572.13,414.91 L572.76,414.93 L573.40,414.94 L574.03,414.96 L574.66,414.97 L575.29,414.98 L575.92,414.99 L576.55,415.01 L577.18,415.02 L577.82,415.03 L578.45,415.04 L579.08,415.05 L579.71,415.06 L580.34,415.07 L580.97,415.08 L581.61,415.09 L582.24,415.10 L582.87,415.11 L583.50,415.12 L584.13,415.13 L584.76,415.13 L585.39,415.14 L586.03,415.15 L586.66,415.15 L587.29,415.16 L587.92,415.17 L588.55,415.17 L589.18,415.18 L589.82,415.18 L590.45,415.19 L591.08,415.19 L591.71,415.20 L592.34,415.20 L592.97,415.20 L593.60,415.20 L594.24,415.20 L594.87,415.20 L595.50,415.20 L596.13,415.20 L596.76,415.20 L597.39,415.20 L598.03,415.20 L598.66,415.20 L599.29,415.20 L599.92,415.20 L600.55,415.20 L601.19,415.20 L601.82,415.20 L602.45,415.20 L603.08,415.20 L603.71,415.20 L604.34,415.20 L604.98,415.20 L605.61,415.20 L606.24,415.20 L606.87,415.20 L607.50,415.20 L608.13,415.20 L608.77,415.20 L609.40,415.20 L610.03,415.20 L610.66,415.20 L611.29,415.20 L611.93,415.20 L612.56,415.20 L613.19,415.20 L613.82,415.20 L614.45,415.20 L615.09,415.20 L615.72,415.20 L616.35,415.20 L616.98,415.20 L617.61,415.20 L618.25,415.20 L618.88,415.20 L619.51,415.20 L620.14,415.20 L620.77,415.20 L621.41,415.20 L622.04,415.20 L622.67,415.20 L623.30,415.20 L623.94,415.20 L624.57,415.20 L625.20,415.20 L625.83,415.20 L626.46,415.20 L627.10,415.20 L627.73,415.20 L628.36,415.20 L628.99,415.19 L629.63,415.19 L630.26,415.19 L630.89,415.19 L631.52,415.19 L632.16,415.19 L632.79,415.18 L633.42,415.18 L634.05,415.18 L634.69,415.18 L635.32,415.18 L635.95,415.18 L636.58,415.20 L637.22,415.20 L637.85,415.20 L638.48,415.20 L639.11,415.20 L639.75,415.20 L640.38,415.20 L641.01,415.20 L641.64,415.20 L642.28,415.20 L642.91,415.20 L643.54,415.20 L644.18,415.20 L644.81,415.20 L645.44,415.20 L646.07,415.20 L646.71,415.20 L647.34,415.20 L647.97,415.20 L648.61,415.20 L649.24,415.20 L649.87,415.20 L650.51,415.20 L651.14,415.20 L651.77,415.20 L652.40,415.20 L653.04,415.20 L653.67,415.20 L654.30,415.20 L654.94,415.20 L655.57,415.20 L656.20,415.20 L636.20,415.20" fill="none" stroke="#2ca02c" stroke-width="5.56" stroke-dasharray="21.2 9.0" stroke-dashoffset="-1.2"/><line x1="120.8" y1="415.2" x2="123.3" y2="415.2" stroke="#2ca02c" stroke-width="5.56"/></g>
<line x1="324.3" y1="27.2" x2="324.3" y2="415.2" stroke="#CC78BC" stroke-width="2.78"/>
<line x1="349.2" y1="27.2" x2="349.2" y2="415.2" stroke="#029E73" stroke-width="2.78"/>
<g stroke="#000" stroke-width="2.1"><line x1="120.80" y1="415.2" x2="120.80" y2="425.10"/><line x1="206.70" y1="415.2" x2="206.70" y2="425.10"/><line x1="292.60" y1="415.2" x2="292.60" y2="425.10"/><line x1="378.50" y1="415.2" x2="378.50" y2="425.10"/><line x1="464.40" y1="415.2" x2="464.40" y2="425.10"/><line x1="550.30" y1="415.2" x2="550.30" y2="425.10"/><line x1="636.20" y1="415.2" x2="636.20" y2="425.10"/><line x1="110.50" y1="415.20" x2="120.8" y2="415.20"/><line x1="110.50" y1="350.53" x2="120.8" y2="350.53"/><line x1="110.50" y1="285.87" x2="120.8" y2="285.87"/><line x1="110.50" y1="221.20" x2="120.8" y2="221.20"/><line x1="110.50" y1="156.53" x2="120.8" y2="156.53"/><line x1="110.50" y1="91.87" x2="120.8" y2="91.87"/><line x1="110.50" y1="27.20" x2="120.8" y2="27.20"/></g>
<g font-family="Liberation Serif" fill="#000"><text x="0" y="0" transform="translate(120.80,451.20) scale(1.12,1)" font-size="22.5" text-anchor="middle">20</text><text x="0" y="0" transform="translate(206.70,451.20) scale(1.12,1)" font-size="22.5" text-anchor="middle">40</text><text x="0" y="0" transform="translate(292.60,451.20) scale(1.12,1)" font-size="22.5" text-anchor="middle">60</text><text x="0" y="0" transform="translate(378.50,451.20) scale(1.12,1)" font-size="22.5" text-anchor="middle">80</text><text x="0" y="0" transform="translate(464.40,451.20) scale(1.12,1)" font-size="22.5" text-anchor="middle">100</text><text x="0" y="0" transform="translate(550.30,451.20) scale(1.12,1)" font-size="22.5" text-anchor="middle">120</text><text x="0" y="0" transform="translate(636.20,451.20) scale(1.12,1)" font-size="22.5" text-anchor="middle">140</text><text x="0" y="0" transform="translate(99.30,422.80) scale(1.12,1)" font-size="22.5" text-anchor="end">0.00</text><text x="0" y="0" transform="translate(99.30,358.13) scale(1.12,1)" font-size="22.5" text-anchor="end">0.01</text><text x="0" y="0" transform="translate(99.30,293.47) scale(1.12,1)" font-size="22.5" text-anchor="end">0.02</text><text x="0" y="0" transform="translate(99.30,228.80) scale(1.12,1)" font-size="22.5" text-anchor="end">0.03</text><text x="0" y="0" transform="translate(99.30,164.13) scale(1.12,1)" font-size="22.5" text-anchor="end">0.04</text><text x="0" y="0" transform="translate(99.30,99.47) scale(1.12,1)" font-size="22.5" text-anchor="end">0.05</text><text x="0" y="0" transform="translate(99.30,34.80) scale(1.12,1)" font-size="22.5" text-anchor="end">0.06</text></g>
<g font-family="Liberation Serif" fill="#000"><text transform="translate(287.96,484.10) scale(1.0657,1)" font-size="22.8" font-style="italic">H</text><text transform="translate(305.94,486.80) scale(1.0582,1)" font-size="16.5">0</text><text transform="translate(315.13,484.10) scale(0.9258,1)" font-size="22.8">[</text><text transform="translate(323.04,484.10) scale(1.0584,1)" font-size="22.8">km</text><text transform="translate(356.92,484.10) scale(1.2651,1)" font-size="22.8">s</text><text transform="translate(368.04,477.60) scale(1.1722,1)" font-size="16.5">&#8722;</text><text transform="translate(379.60,476.60) scale(0.9640,1)" font-size="16.5">1</text><text transform="translate(393.12,484.10) scale(1.0412,1)" font-size="22.8">Mpc</text><text transform="translate(437.43,477.60) scale(1.1852,1)" font-size="16.5">&#8722;</text><text transform="translate(448.58,476.60) scale(0.9813,1)" font-size="16.5">1</text><text transform="translate(458.99,484.10) scale(0.9849,1)" font-size="22.8">]</text></g>
<g font-family="Liberation Serif" fill="#000"><text transform="translate(36.20,0) rotate(-90) translate(-320.17,0) scale(0.9215,1)" font-size="22.8" font-style="italic">p</text><text transform="translate(36.20,0) rotate(-90) translate(-310.66,0) scale(1.0588,1)" font-size="22.8">(</text><text transform="translate(36.20,0) rotate(-90) translate(-301.78,0) scale(0.8966,1)" font-size="22.8" font-style="italic">H</text><text transform="translate(38.90,0) rotate(-90) translate(-285.38,0) scale(1.0868,1)" font-size="16.5">0</text><text transform="translate(36.20,0) rotate(-90) translate(-275.62,0) scale(1.7613,1)" font-size="22.8">|</text><text transform="translate(36.20,0) rotate(-90) translate(-267.82,0) scale(1.0067,1)" font-size="22.8" font-style="italic">x</text><text transform="translate(36.20,0) rotate(-90) translate(-257.18,0) scale(1.0588,1)" font-size="22.8">)</text><text transform="translate(36.20,0) rotate(-90) translate(-250.17,0) scale(1.2213,1)" font-size="22.8">[</text><text transform="translate(36.20,0) rotate(-90) translate(-240.22,0) scale(0.9773,1)" font-size="22.8">km</text><text transform="translate(29.70,0) rotate(-90) translate(-210.21,0) scale(0.9898,1)" font-size="16.5">&#8722;</text><text transform="translate(28.70,0) rotate(-90) translate(-198.45,0) scale(0.9985,1)" font-size="16.5">1</text><text transform="translate(36.20,0) rotate(-90) translate(-186.29,0) scale(1.3776,1)" font-size="22.8">s</text><text transform="translate(36.20,0) rotate(-90) translate(-172.19,0) scale(1.0461,1)" font-size="22.8">Mpc</text><text transform="translate(36.20,0) rotate(-90) translate(-127.80,0) scale(0.9652,1)" font-size="22.8">]</text></g>
<g font-family="Liberation Serif" fill="#000"><rect x="404.5" y="34.3" width="224.4" height="130.1" rx="2.6" ry="2.6" fill="#fff" fill-opacity="0.8" stroke="#dcdcdc" stroke-width="2.6"/><line x1="409.85" y1="45.8" x2="438.85" y2="45.8" stroke="#000" stroke-width="5.56" stroke-linecap="square"/><rect x="410.10" y="65.35" width="2.9" height="2.9" fill="#1f77b4"/><rect x="415.85" y="65.35" width="2.9" height="2.9" fill="#1f77b4"/><rect x="421.60" y="65.35" width="2.9" height="2.9" fill="#1f77b4"/><rect x="427.35" y="65.35" width="2.9" height="2.9" fill="#1f77b4"/><rect x="433.10" y="65.35" width="2.9" height="2.9" fill="#1f77b4"/><line x1="409.85" y1="87.8" x2="438.85" y2="87.8" stroke="#ff7f0e" stroke-width="5.56" stroke-linecap="square"/><line x1="409.85" y1="108.8" x2="438.85" y2="108.8" stroke="#2ca02c" stroke-width="5.56" stroke-dasharray="21.2 9.2"/><line x1="409.85" y1="129.8" x2="438.85" y2="129.8" stroke="#CC78BC" stroke-width="2.6" stroke-linecap="square"/><line x1="409.85" y1="150.8" x2="438.85" y2="150.8" stroke="#029E73" stroke-width="2.6" stroke-linecap="square"/><text transform="translate(450.30,50.80) scale(1.1119,1)" font-size="15.4">GW170817</text><text transform="translate(450.48,71.80) scale(1.1665,1)" font-size="15.4">Empty catalog</text><text transform="translate(450.50,92.80) scale(1.1341,1)" font-size="15.4">K band with GW170817</text><text transform="translate(450.51,113.80) scale(1.1067,1)" font-size="15.4">K band</text><text transform="translate(450.49,134.80) scale(1.1406,1)" font-size="15.4">Planck</text><text transform="translate(449.81,155.80) scale(1.1528,1)" font-size="15.4">SH0ES</text></g>
<g transform="translate(189.4,77.3)">
<g fill="#e4e4e4" stroke="#e4e4e4" stroke-width="3" stroke-linejoin="round"><path d="M0,-11.8 L2.8,-6.3 L-2.8,-6.3 Z"/><path d="M0,11.8 L2.8,6.3 L-2.8,6.3 Z"/><path d="M-11.8,0 L-6.3,-2.8 L-6.3,2.8 Z"/><path d="M11.8,0 L6.3,-2.8 L6.3,2.8 Z"/></g>
<g fill="#474747"><path d="M0,-11.8 L2.8,-6.3 L-2.8,-6.3 Z"/><path d="M0,11.8 L2.8,6.3 L-2.8,6.3 Z"/><path d="M-11.8,0 L-6.3,-2.8 L-6.3,2.8 Z"/><path d="M11.8,0 L6.3,-2.8 L6.3,2.8 Z"/></g>
<circle r="4.2" fill="#eef1f4"/>
<circle r="2.6" fill="#f47c14"/>
</g>
</svg>
</body></html>
